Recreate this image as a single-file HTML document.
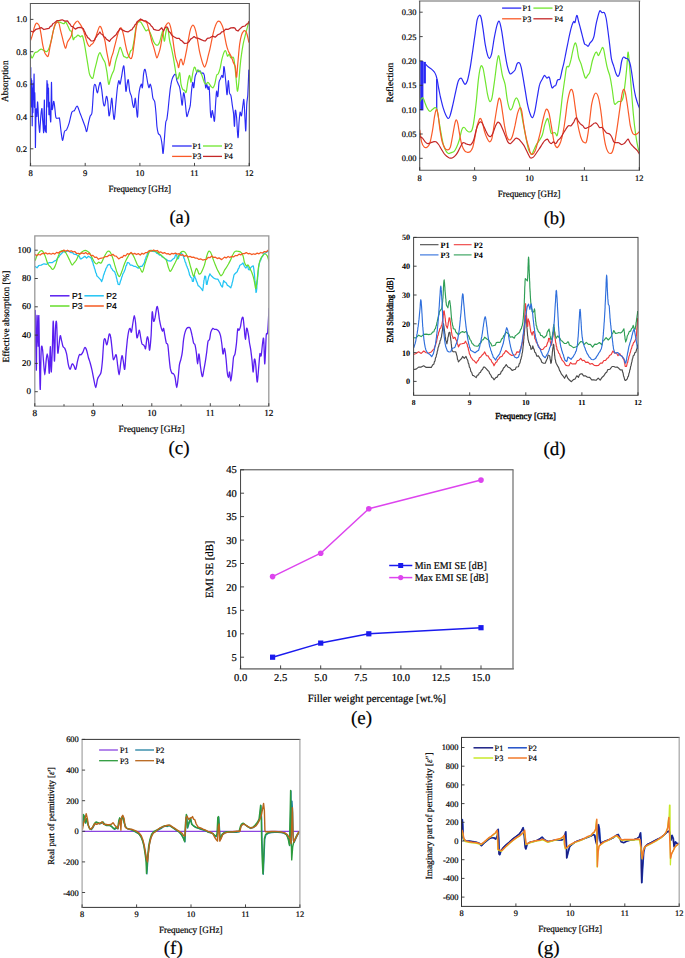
<!DOCTYPE html><html><head><meta charset="utf-8"><style>html,body{margin:0;padding:0;background:#fff;}svg{display:block;text-rendering:geometricPrecision;-webkit-font-smoothing:antialiased;}</style></head><body>
<svg width="685" height="958" viewBox="0 0 685 958">
<rect width="685" height="958" fill="#fff"/>
<clipPath id="ca"><rect x="30.4" y="3.5" width="218.9" height="162.4"/></clipPath>
<g clip-path="url(#ca)">
<path d="M30.8,67.5 C30.8,71.7 30.9,91.0 31.0,92.9 C31.1,94.8 31.2,76.4 31.3,78.8 C31.3,81.1 31.3,106.7 31.4,107.0 C31.5,107.3 31.7,77.5 31.8,80.7 C31.9,83.8 32.1,124.5 32.2,125.8 C32.3,127.0 32.4,90.4 32.6,88.2 C32.7,86.0 32.8,113.4 32.9,112.6 C33.1,111.8 33.2,85.7 33.3,83.5 C33.4,81.3 33.6,101.0 33.7,99.5 C33.8,97.9 33.9,72.8 34.1,74.1 C34.2,75.3 34.3,103.8 34.4,107.0 C34.6,110.1 34.7,91.3 34.8,92.9 C34.9,94.4 35.1,107.3 35.2,116.4 C35.3,125.4 35.3,145.8 35.4,147.4 C35.5,148.9 35.6,132.2 35.8,125.8 C35.9,119.3 36.1,110.4 36.3,108.9 C36.5,107.3 36.7,117.5 36.9,116.4 C37.1,115.3 37.3,103.8 37.5,102.3 C37.6,100.7 37.8,103.8 38.0,107.0 C38.2,110.1 38.4,117.6 38.6,121.1 C38.8,124.5 39.0,125.8 39.1,127.6 C39.3,129.5 39.5,133.0 39.7,132.3 C39.9,131.7 40.1,126.5 40.3,123.9 C40.5,121.2 40.6,118.6 40.8,116.4 C41.0,114.2 41.2,112.0 41.4,110.7 C41.6,109.5 41.8,107.6 42.0,108.9 C42.2,110.1 42.3,115.4 42.5,118.2 C42.7,121.1 42.9,123.4 43.1,125.8 C43.3,128.1 43.5,134.5 43.7,132.3 C43.8,130.1 43.9,117.9 44.0,112.6 C44.2,107.3 44.3,98.2 44.4,100.4 C44.5,102.6 44.7,120.6 44.8,125.8 C44.9,130.9 45.0,131.4 45.2,131.4 C45.3,131.4 45.5,125.8 45.7,125.8 C45.9,125.8 46.1,136.1 46.3,131.4 C46.4,126.7 46.5,106.0 46.7,97.6 C46.8,89.1 46.9,81.5 47.0,80.7 C47.2,79.9 47.3,92.3 47.4,92.9 C47.5,93.5 47.7,82.1 47.8,84.4 C47.9,86.8 48.0,106.3 48.2,107.0 C48.3,107.6 48.4,86.9 48.5,88.2 C48.7,89.4 48.8,112.1 48.9,114.5 C49.0,116.8 49.2,103.2 49.3,102.3 C49.4,101.3 49.5,106.5 49.7,108.9 C49.8,111.2 50.0,114.3 50.2,116.4 C50.4,118.4 50.6,124.2 50.8,121.1 C51.0,117.9 51.0,104.0 51.2,97.6 C51.3,91.2 51.4,81.0 51.5,82.5 C51.7,84.1 51.8,102.6 51.9,107.0 C52.1,111.4 52.3,109.2 52.5,108.9 C52.7,108.5 52.9,106.3 53.1,105.1 C53.2,103.8 53.4,101.6 53.6,101.3 C53.8,101.0 54.0,102.0 54.2,103.2 C54.4,104.5 54.7,106.7 54.9,108.9 C55.2,111.0 55.4,114.8 55.7,116.4 C55.9,117.9 56.1,117.9 56.4,118.2 C56.8,118.6 57.2,118.2 57.7,118.2 C58.1,118.2 58.6,118.1 58.9,118.2 C59.2,118.4 59.2,116.7 59.6,119.2 C60.0,121.8 60.8,129.8 61.3,133.3 C61.8,136.8 62.2,140.6 62.7,140.3 C63.2,140.0 63.8,133.3 64.5,131.5 C65.1,129.8 65.8,131.2 66.6,129.8 C67.4,128.3 68.3,125.7 69.2,122.8 C70.1,119.8 71.0,114.3 71.8,112.2 C72.7,110.2 73.6,111.5 74.5,110.5 C75.3,109.5 76.2,105.8 77.1,106.1 C78.0,106.4 78.9,110.0 79.7,112.2 C80.6,114.4 81.5,116.9 82.4,119.2 C83.2,121.6 84.3,124.2 85.0,126.3 C85.7,128.3 86.2,132.1 86.7,131.5 C87.3,130.9 87.9,125.4 88.5,122.8 C89.1,120.1 89.7,117.5 90.3,115.7 C90.8,114.0 91.4,116.9 92.0,112.2 C92.6,107.6 93.2,92.2 93.8,87.7 C94.3,83.2 94.9,84.2 95.5,85.1 C96.1,85.9 96.7,92.8 97.3,92.9 C97.9,93.1 98.5,87.7 99.0,85.9 C99.5,84.2 99.8,81.8 100.3,82.4 C100.7,83.0 101.1,85.9 101.7,89.4 C102.2,92.9 102.9,100.8 103.4,103.5 C103.9,106.1 104.3,106.4 104.8,105.2 C105.3,104.1 105.9,97.0 106.4,96.5 C106.9,95.9 107.4,98.5 107.8,101.7 C108.2,104.9 108.6,114.6 109.0,115.7 C109.5,116.9 110.0,111.6 110.4,108.7 C110.9,105.8 111.4,97.6 111.8,98.2 C112.3,98.8 112.6,108.7 113.1,112.2 C113.5,115.7 113.8,120.4 114.3,119.2 C114.7,118.1 115.2,110.5 115.7,105.2 C116.2,100.0 116.9,91.8 117.4,87.7 C118.0,83.6 118.4,81.3 118.8,80.7 C119.3,80.1 119.6,84.8 120.1,84.2 C120.5,83.6 120.9,80.2 121.5,77.2 C122.1,74.1 123.0,66.1 123.6,65.8 C124.1,65.5 124.4,71.2 124.8,75.4 C125.2,79.6 125.5,89.7 125.9,91.2 C126.2,92.7 126.7,86.1 127.1,84.2 C127.5,82.3 127.9,78.6 128.3,79.8 C128.7,81.0 129.2,88.4 129.7,91.2 C130.2,94.0 130.9,94.1 131.5,96.5 C132.0,98.8 132.4,103.5 132.9,105.2 C133.3,107.0 133.7,108.1 134.1,107.0 C134.5,105.8 134.9,97.9 135.3,98.2 C135.7,98.5 136.0,105.7 136.4,108.7 C136.8,111.8 137.2,119.0 137.6,116.6 C138.0,114.3 138.2,100.1 138.8,94.7 C139.4,89.3 140.6,85.3 141.2,84.2 C141.7,83.0 142.0,89.4 142.4,87.7 C142.8,85.9 143.2,76.7 143.6,73.7 C144.1,70.6 144.5,69.0 145.0,69.3 C145.5,69.6 146.0,73.2 146.4,75.4 C146.9,77.6 147.2,80.4 147.6,82.4 C148.1,84.5 148.4,87.4 148.9,87.7 C149.3,88.0 149.8,83.9 150.3,84.2 C150.7,84.5 151.2,87.1 151.7,89.4 C152.1,91.8 152.4,96.2 152.9,98.2 C153.4,100.3 154.2,99.4 154.7,101.7 C155.2,104.1 155.5,108.1 155.9,112.2 C156.3,116.3 156.6,122.8 156.9,126.3 C157.3,129.8 157.7,131.8 158.2,133.3 C158.7,134.7 159.4,134.2 159.9,135.0 C160.4,135.9 160.8,136.8 161.1,138.5 C161.5,140.3 161.9,143.1 162.2,145.6 C162.5,148.0 162.7,154.3 163.1,153.4 C163.4,152.6 163.9,145.4 164.3,140.3 C164.7,135.2 165.3,126.3 165.7,122.8 C166.1,119.2 166.5,121.6 166.9,119.2 C167.3,116.9 167.7,112.8 168.2,108.7 C168.6,104.6 169.1,98.8 169.6,94.7 C170.0,90.6 170.5,86.8 171.0,84.2 C171.4,81.5 171.7,80.4 172.2,78.9 C172.7,77.5 173.4,76.1 173.9,75.4 C174.5,74.7 175.2,73.7 175.7,74.5 C176.2,75.4 176.5,79.1 176.9,80.7 C177.4,82.3 177.9,83.0 178.3,84.2 C178.8,85.3 179.3,85.6 179.7,87.7 C180.2,89.7 180.6,93.5 181.0,96.5 C181.4,99.4 181.8,105.8 182.2,105.2 C182.6,104.6 183.1,93.8 183.6,92.9 C184.1,92.1 184.6,96.7 185.0,100.0 C185.4,103.2 185.9,109.5 186.2,112.2 C186.6,115.0 186.7,116.9 187.1,116.6 C187.5,116.3 188.3,112.4 188.9,110.5 C189.4,108.6 189.8,108.4 190.3,105.2 C190.7,102.0 191.1,95.0 191.5,91.2 C191.9,87.4 192.3,83.0 192.7,82.4 C193.1,81.8 193.4,88.6 193.8,87.7 C194.1,86.8 194.6,79.5 195.0,77.2 C195.4,74.8 195.8,74.8 196.2,73.7 C196.7,72.5 197.2,70.4 197.6,70.1 C198.1,69.9 198.6,71.8 199.0,71.9 C199.5,72.0 199.8,70.7 200.3,71.0 C200.7,71.3 201.0,73.4 201.5,73.7 C201.9,73.9 202.4,72.5 202.9,72.8 C203.4,73.1 203.8,72.9 204.3,75.4 C204.8,77.9 205.3,86.2 205.7,87.7 C206.1,89.1 206.3,83.9 206.7,84.2 C207.2,84.5 207.7,88.9 208.1,89.4 C208.6,90.0 208.8,83.9 209.2,87.7 C209.6,91.5 210.1,107.3 210.4,112.2 C210.8,117.2 211.0,117.8 211.3,117.5 C211.6,117.2 211.8,110.8 212.2,110.5 C212.5,110.2 213.0,114.0 213.4,115.7 C213.8,117.5 214.1,122.8 214.5,121.0 C214.8,119.2 215.2,110.2 215.5,105.2 C215.9,100.3 216.2,92.7 216.6,91.2 C216.9,89.7 217.4,97.9 217.8,96.5 C218.2,95.0 218.6,85.3 219.0,82.4 C219.5,79.5 220.0,80.1 220.4,78.9 C220.9,77.7 221.4,75.7 221.8,75.4 C222.3,75.1 222.7,78.6 223.1,77.2 C223.4,75.7 223.6,67.2 223.9,66.6 C224.3,66.1 224.6,70.7 225.0,73.7 C225.3,76.6 225.7,80.7 226.0,84.2 C226.4,87.7 226.7,95.3 227.1,94.7 C227.5,94.1 227.9,81.0 228.3,80.7 C228.7,80.4 229.1,90.5 229.5,92.9 C230.0,95.4 230.5,93.5 230.9,95.6 C231.4,97.6 231.9,102.2 232.3,105.2 C232.8,108.3 233.2,110.5 233.6,114.0 C233.9,117.5 234.2,126.8 234.5,126.3 C234.7,125.7 235.0,111.9 235.3,110.5 C235.7,109.0 236.1,113.0 236.6,117.5 C237.0,122.0 237.5,136.8 238.0,137.7 C238.4,138.5 238.7,127.0 239.0,122.8 C239.4,118.5 239.7,113.4 240.1,112.2 C240.5,111.1 241.0,116.9 241.5,115.7 C241.9,114.6 242.5,107.8 242.9,105.2 C243.3,102.6 243.6,97.6 243.9,100.0 C244.3,102.3 244.7,114.1 245.0,119.2 C245.3,124.4 245.6,133.0 245.8,130.6 C246.1,128.3 246.4,111.2 246.7,105.2 C247.0,99.2 247.4,100.5 247.8,94.7 C248.1,88.9 248.7,74.2 248.8,70.1" fill="none" stroke="#2a2af5" stroke-width="1.15" stroke-linejoin="round" stroke-linecap="round" />
<path d="M30.6,54.4 C30.8,54.9 31.4,57.6 31.9,57.9 C32.3,58.2 32.7,57.0 33.3,56.1 C33.8,55.2 34.3,53.3 35.0,52.6 C35.7,51.9 36.9,52.2 37.6,51.7 C38.4,51.3 38.8,50.4 39.4,50.0 C40.0,49.5 40.6,49.1 41.2,49.1 C41.7,49.1 42.3,49.7 42.9,50.0 C43.5,50.3 44.1,50.6 44.7,50.9 C45.2,51.1 45.8,51.9 46.4,51.7 C47.0,51.6 47.6,51.0 48.2,50.0 C48.8,49.0 49.3,47.5 49.9,45.6 C50.5,43.7 51.0,41.5 51.7,38.6 C52.3,35.7 53.2,30.7 54.0,28.1 C54.7,25.4 55.3,23.8 56.1,22.8 C56.8,21.8 57.8,21.9 58.7,21.9 C59.6,21.9 60.4,22.5 61.3,22.8 C62.2,23.1 63.2,23.8 63.9,23.7 C64.7,23.5 65.0,21.5 65.7,21.9 C66.4,22.4 67.3,24.8 68.0,26.3 C68.7,27.8 69.5,29.8 70.1,30.7 C70.7,31.6 71.0,30.1 71.5,31.6 C72.0,33.0 72.7,38.4 73.2,39.5 C73.7,40.5 74.0,38.1 74.5,37.7 C75.0,37.3 75.6,37.3 76.2,36.8 C76.8,36.4 77.2,35.1 78.0,35.1 C78.7,35.1 79.9,36.7 80.6,36.8 C81.3,37.0 81.8,35.1 82.4,35.9 C82.9,36.8 83.5,39.3 84.1,42.1 C84.7,44.9 85.3,49.1 85.9,52.6 C86.5,56.1 87.0,59.6 87.6,63.1 C88.2,66.6 88.8,71.3 89.4,73.7 C90.0,76.0 90.5,76.4 91.1,77.2 C91.7,77.9 92.3,79.2 92.9,78.0 C93.5,76.9 94.1,72.6 94.6,70.1 C95.2,67.7 95.8,65.5 96.4,63.1 C97.0,60.8 97.6,57.9 98.1,56.1 C98.7,54.4 99.3,52.6 99.9,52.6 C100.5,52.6 101.1,54.9 101.7,56.1 C102.2,57.3 102.8,58.5 103.4,59.6 C104.0,60.8 104.6,61.1 105.2,63.1 C105.7,65.2 106.3,68.4 106.9,71.9 C107.5,75.4 108.1,83.0 108.7,84.2 C109.3,85.3 109.8,80.7 110.4,78.9 C111.0,77.2 111.6,75.1 112.2,73.7 C112.8,72.2 113.3,72.2 113.9,70.1 C114.5,68.1 115.0,64.3 115.7,61.4 C116.4,58.5 117.6,54.9 118.3,52.6 C119.0,50.3 119.5,47.6 120.1,47.3 C120.7,47.1 121.2,49.4 121.8,50.9 C122.4,52.3 123.0,55.1 123.6,56.1 C124.2,57.1 124.7,56.7 125.3,57.0 C125.9,57.3 126.5,58.0 127.1,57.9 C127.7,57.7 128.3,57.3 128.8,56.1 C129.4,54.9 130.0,52.0 130.6,50.9 C131.2,49.7 131.8,50.9 132.3,49.1 C132.9,47.3 133.5,43.8 134.1,40.3 C134.7,36.8 135.3,31.0 135.8,28.1 C136.4,25.1 136.8,23.8 137.6,22.8 C138.4,21.8 139.7,21.3 140.6,21.9 C141.6,22.5 142.4,24.8 143.3,26.3 C144.1,27.8 145.0,30.1 145.9,30.7 C146.8,31.3 147.6,29.1 148.5,29.8 C149.4,30.5 150.3,33.0 151.2,35.1 C152.0,37.1 153.0,40.5 153.8,42.1 C154.6,43.7 155.2,44.3 155.9,44.7 C156.6,45.2 157.5,45.3 158.2,44.7 C158.8,44.1 159.3,43.0 159.9,41.2 C160.5,39.5 161.2,35.8 161.7,34.2 C162.2,32.6 162.5,30.4 162.9,31.6 C163.3,32.7 163.8,40.9 164.3,41.2 C164.8,41.5 165.3,35.5 165.7,33.3 C166.1,31.1 166.5,28.6 166.9,28.1 C167.3,27.5 167.7,27.8 168.2,29.8 C168.6,31.9 169.0,37.4 169.6,40.3 C170.1,43.3 170.7,44.7 171.3,47.3 C171.9,50.0 172.5,52.9 173.1,56.1 C173.7,59.3 174.3,63.4 174.8,66.6 C175.4,69.9 175.7,73.4 176.2,75.4 C176.8,77.5 177.4,79.4 178.0,78.9 C178.6,78.5 179.2,71.9 179.7,72.8 C180.2,73.7 180.5,81.4 181.0,84.2 C181.5,87.0 182.1,88.4 182.7,89.4 C183.3,90.5 183.9,89.9 184.5,90.3 C185.1,90.8 185.6,93.7 186.2,92.1 C186.8,90.5 187.4,83.4 188.0,80.7 C188.6,77.9 189.2,75.1 189.7,75.4 C190.2,75.7 190.5,82.4 191.0,82.4 C191.4,82.4 191.9,77.7 192.4,75.4 C192.8,73.1 193.3,69.7 193.8,68.4 C194.2,67.1 194.5,66.9 195.0,67.5 C195.5,68.1 196.2,71.5 196.7,71.9 C197.3,72.3 197.9,70.1 198.5,70.1 C199.1,70.1 199.7,71.0 200.3,71.9 C200.8,72.8 201.3,73.7 202.0,75.4 C202.7,77.2 203.6,81.0 204.3,82.4 C205.0,83.9 205.5,84.2 206.0,84.2 C206.6,84.2 207.2,82.4 207.8,82.4 C208.4,82.4 209.0,83.4 209.5,84.2 C210.1,84.9 210.7,86.2 211.3,86.8 C211.9,87.4 212.5,88.1 213.1,87.7 C213.6,87.2 214.2,86.2 214.8,84.2 C215.4,82.1 216.0,77.2 216.6,75.4 C217.1,73.7 217.7,74.8 218.3,73.7 C218.9,72.5 219.5,70.7 220.1,68.4 C220.7,66.1 221.2,62.3 221.8,59.6 C222.5,57.0 223.3,54.1 223.9,52.6 C224.6,51.1 225.1,50.3 225.7,50.9 C226.3,51.4 226.9,55.5 227.4,56.1 C228.0,56.7 228.6,54.1 229.2,54.4 C229.8,54.7 230.2,57.3 230.9,57.9 C231.7,58.5 232.8,55.8 233.6,57.9 C234.3,59.9 234.8,65.8 235.3,70.1 C235.8,74.5 236.2,80.7 236.6,84.2 C236.9,87.7 237.2,91.5 237.6,91.2 C238.0,90.9 238.4,86.5 238.8,82.4 C239.2,78.3 239.6,71.3 240.1,66.6 C240.5,62.0 240.9,58.2 241.5,54.4 C242.0,50.6 242.6,47.1 243.2,43.8 C243.9,40.6 244.6,38.0 245.3,35.1 C246.1,32.2 247.0,28.5 247.6,26.3 C248.2,24.1 248.6,22.7 248.8,21.9" fill="none" stroke="#6fe62e" stroke-width="1.2" stroke-linejoin="round" stroke-linecap="round" />
<path d="M30.6,40.3 C30.9,39.5 31.8,37.1 32.4,35.1 C33.0,33.0 33.6,30.0 34.1,28.1 C34.7,26.2 35.3,24.4 35.9,23.7 C36.5,22.9 37.1,23.2 37.6,23.7 C38.2,24.1 38.8,24.4 39.4,26.3 C40.0,28.2 40.6,31.9 41.2,35.1 C41.7,38.3 42.3,42.7 42.9,45.6 C43.5,48.5 44.1,51.0 44.7,52.6 C45.2,54.2 45.8,54.7 46.4,55.2 C47.0,55.8 47.6,57.4 48.2,56.1 C48.8,54.8 49.3,50.3 49.9,47.3 C50.5,44.4 51.0,41.8 51.7,38.6 C52.3,35.4 53.2,30.7 54.0,28.1 C54.7,25.4 55.3,23.7 56.1,22.8 C56.8,21.9 58.0,21.6 58.7,22.8 C59.4,24.0 59.9,27.5 60.4,29.8 C61.0,32.2 61.6,34.5 62.2,36.8 C62.8,39.2 63.4,41.9 63.9,43.8 C64.5,45.7 65.1,48.5 65.7,48.2 C66.3,47.9 66.8,43.7 67.5,42.1 C68.1,40.5 69.1,39.7 69.7,38.6 C70.4,37.4 70.9,37.1 71.5,35.1 C72.1,33.0 72.6,28.4 73.2,26.3 C73.9,24.3 74.6,23.7 75.3,22.8 C76.1,21.9 76.8,21.0 77.5,21.0 C78.1,21.0 78.5,21.9 79.2,22.8 C79.9,23.7 80.7,24.8 81.5,26.3 C82.2,27.8 83.0,29.5 83.8,31.6 C84.5,33.6 85.2,36.5 85.9,38.6 C86.5,40.6 87.0,42.5 87.6,43.8 C88.2,45.2 88.8,46.3 89.4,46.5 C90.0,46.6 90.5,45.3 91.1,44.7 C91.8,44.1 92.5,44.1 93.2,43.0 C94.0,41.8 94.8,39.7 95.5,37.7 C96.3,35.7 97.1,32.6 97.8,30.7 C98.5,28.8 99.3,26.6 99.9,26.3 C100.5,26.0 101.1,27.5 101.7,28.9 C102.2,30.4 102.8,32.9 103.4,35.1 C104.0,37.3 104.6,39.2 105.2,42.1 C105.7,45.0 106.3,49.4 106.9,52.6 C107.5,55.8 108.2,59.2 108.7,61.4 C109.1,63.6 109.1,66.3 109.5,65.8 C110.0,65.2 110.7,60.1 111.3,57.9 C111.9,55.7 112.5,54.7 113.1,52.6 C113.6,50.6 114.2,47.9 114.8,45.6 C115.4,43.3 116.0,40.8 116.6,38.6 C117.1,36.4 117.7,34.2 118.3,32.4 C118.9,30.7 119.5,28.6 120.1,28.1 C120.7,27.5 121.2,27.8 121.8,28.9 C122.4,30.1 123.0,32.6 123.6,35.1 C124.2,37.6 124.7,41.1 125.3,43.8 C125.9,46.6 126.5,49.7 127.1,51.7 C127.7,53.8 128.3,54.9 128.8,56.1 C129.4,57.3 130.0,58.7 130.6,58.7 C131.2,58.7 131.8,58.6 132.3,56.1 C132.9,53.6 133.5,48.1 134.1,43.8 C134.7,39.6 135.3,34.3 135.8,30.7 C136.4,27.0 136.6,23.7 137.6,21.9 C138.6,20.2 140.8,20.3 141.9,20.2 C142.9,20.0 143.3,20.6 144.1,21.0 C145.0,21.5 146.0,21.6 146.8,22.8 C147.5,24.0 147.9,26.0 148.5,28.1 C149.1,30.1 149.7,32.7 150.3,35.1 C150.9,37.4 151.4,40.0 152.0,42.1 C152.6,44.1 153.3,45.6 153.8,47.3 C154.3,49.1 154.7,50.9 155.2,52.6 C155.7,54.4 156.4,57.7 156.9,57.9 C157.5,58.0 158.1,55.2 158.7,53.5 C159.3,51.7 159.9,50.1 160.4,47.3 C161.0,44.6 161.6,39.9 162.2,36.8 C162.8,33.8 163.6,31.0 164.3,28.9 C165.0,26.9 165.7,25.6 166.4,24.6 C167.1,23.5 168.0,22.5 168.7,22.8 C169.4,23.1 169.9,24.3 170.4,26.3 C171.0,28.4 171.6,31.6 172.2,35.1 C172.8,38.6 173.4,43.5 173.9,47.3 C174.5,51.1 175.1,55.2 175.7,57.9 C176.3,60.5 177.0,61.5 177.5,63.1 C178.0,64.7 178.2,68.0 178.7,67.5 C179.1,67.1 179.6,61.8 180.1,60.5 C180.6,59.2 181.0,58.9 181.5,59.6 C182.0,60.4 182.7,65.2 183.2,64.9 C183.8,64.6 184.4,60.8 185.0,57.9 C185.6,54.9 186.5,50.9 187.1,47.3 C187.7,43.8 188.3,39.9 188.9,36.8 C189.4,33.8 190.0,30.8 190.6,28.9 C191.2,27.0 191.8,25.9 192.4,25.4 C192.9,25.0 193.5,25.3 194.1,26.3 C194.7,27.3 195.3,29.2 195.9,31.6 C196.5,33.9 197.0,37.1 197.6,40.3 C198.2,43.5 198.8,47.9 199.4,50.9 C200.0,53.8 200.5,55.7 201.1,57.9 C201.7,60.1 202.3,62.5 202.9,64.0 C203.5,65.6 204.1,67.3 204.6,67.2 C205.2,67.0 205.8,65.0 206.4,63.1 C207.0,61.3 207.6,58.5 208.1,56.1 C208.7,53.8 209.3,51.7 209.9,49.1 C210.5,46.5 211.1,43.1 211.7,40.3 C212.2,37.6 212.8,34.8 213.4,32.4 C214.0,30.1 214.5,28.1 215.2,26.3 C215.8,24.6 216.5,22.7 217.3,21.9 C218.0,21.1 218.9,21.1 219.5,21.4 C220.2,21.7 220.7,22.6 221.3,23.7 C221.9,24.8 222.5,25.9 223.1,28.1 C223.6,30.3 224.2,33.9 224.8,36.8 C225.4,39.7 226.0,43.3 226.6,45.6 C227.1,47.9 227.7,49.4 228.3,50.9 C228.9,52.3 229.5,53.2 230.1,54.4 C230.7,55.5 231.2,56.4 231.8,57.9 C232.4,59.3 233.0,61.7 233.6,63.1 C234.2,64.6 234.8,64.3 235.3,66.6 C235.8,69.0 236.1,78.0 236.6,77.2 C237.0,76.3 237.4,66.9 238.0,61.4 C238.5,55.8 239.1,48.2 239.7,43.8 C240.3,39.5 240.9,37.1 241.5,35.1 C242.1,33.0 242.6,32.3 243.2,31.6 C243.8,30.8 244.4,30.4 245.0,30.7 C245.6,31.0 246.1,31.4 246.7,33.3 C247.4,35.2 248.5,40.6 248.8,42.1" fill="none" stroke="#fa5a28" stroke-width="1.2" stroke-linejoin="round" stroke-linecap="round" />
<path d="M30.6,31.1 L33.3,32.0 L35.9,29.3 L38.5,28.6 L41.2,27.6 L43.8,29.5 L46.4,28.8 L49.0,28.4 L50.4,26.3 L51.7,25.9 L53.0,23.5 L54.3,23.0 L56.9,20.7 L59.6,20.4 L62.2,19.8 L64.8,21.1 L67.5,20.9 L68.8,22.9 L70.1,24.3 L71.4,26.5 L72.7,26.7 L75.3,29.1 L78.0,27.6 L80.6,27.4 L83.2,28.5 L84.1,30.6 L85.0,32.3 L85.9,34.7 L86.7,35.6 L87.6,37.6 L88.5,38.0 L91.1,40.9 L92.9,41.0 L94.6,40.0 L95.5,37.7 L96.4,36.9 L97.3,34.9 L98.6,33.9 L99.9,32.0 L101.2,34.0 L102.5,34.5 L103.8,36.7 L105.2,37.4 L106.5,39.3 L107.8,40.1 L109.5,41.4 L110.8,39.4 L112.2,38.1 L114.8,35.8 L116.1,34.8 L117.4,32.2 L118.8,30.7 L120.1,28.4 L122.7,30.2 L125.3,31.3 L128.0,31.9 L130.6,30.2 L131.9,29.7 L133.2,27.5 L134.1,26.8 L135.0,24.7 L135.8,24.2 L137.2,21.6 L138.5,20.7 L140.6,19.0 L143.3,20.6 L145.9,20.9 L148.5,22.9 L149.8,23.8 L151.2,26.0 L152.5,27.0 L153.8,29.4 L156.4,30.1 L159.0,30.4 L161.7,27.8 L163.4,31.0 L165.2,27.7 L166.9,26.8 L167.8,28.1 L168.7,31.2 L170.4,32.8 L172.2,35.6 L173.9,36.7 L176.6,38.3 L179.2,38.4 L180.5,40.1 L181.8,40.8 L184.5,43.5 L187.1,43.2 L188.9,41.8 L190.6,39.1 L192.4,38.0 L194.1,36.6 L195.9,37.9 L198.5,38.4 L201.1,39.6 L203.8,40.8 L205.5,40.9 L207.3,38.4 L209.9,37.8 L212.5,36.2 L215.2,37.2 L217.8,34.8 L220.4,33.6 L221.7,31.9 L223.1,31.7 L225.7,29.1 L228.3,29.3 L230.9,27.9 L233.6,27.7 L234.9,28.2 L236.2,30.2 L238.0,31.0 L239.7,29.1 L242.3,26.7 L245.0,26.0 L246.7,24.1 L247.9,23.7 L248.8,21.7" fill="none" stroke="#c42828" stroke-width="1.25" stroke-linejoin="round" stroke-linecap="round" />
</g>
<line x1="29.849999999999998" y1="3.5" x2="249.85000000000002" y2="3.5" stroke="#555" stroke-width="1.1"/>
<line x1="29.7" y1="165.9" x2="250.0" y2="165.9" stroke="#999" stroke-width="1.4"/>
<line x1="30.4" y1="3.5" x2="30.4" y2="165.9" stroke="#666" stroke-width="1.1"/>
<line x1="249.3" y1="3.5" x2="249.3" y2="165.9" stroke="#555" stroke-width="1.1"/>
<line x1="30.4" y1="148.8" x2="33.4" y2="148.8" stroke="#333" stroke-width="0.9"/>
<text x="27.0" y="151.8" font-size="8.6" text-anchor="end" font-family="Liberation Serif, serif" fill="#000" stroke="#000" stroke-width="0.2" >0.2</text>
<line x1="30.4" y1="116.4" x2="33.4" y2="116.4" stroke="#333" stroke-width="0.9"/>
<text x="27.0" y="119.5" font-size="8.6" text-anchor="end" font-family="Liberation Serif, serif" fill="#000" stroke="#000" stroke-width="0.2" >0.4</text>
<line x1="30.4" y1="84.1" x2="33.4" y2="84.1" stroke="#333" stroke-width="0.9"/>
<text x="27.0" y="87.1" font-size="8.6" text-anchor="end" font-family="Liberation Serif, serif" fill="#000" stroke="#000" stroke-width="0.2" >0.6</text>
<line x1="30.4" y1="51.7" x2="33.4" y2="51.7" stroke="#333" stroke-width="0.9"/>
<text x="27.0" y="54.8" font-size="8.6" text-anchor="end" font-family="Liberation Serif, serif" fill="#000" stroke="#000" stroke-width="0.2" >0.8</text>
<line x1="30.4" y1="19.4" x2="33.4" y2="19.4" stroke="#333" stroke-width="0.9"/>
<text x="27.0" y="22.4" font-size="8.6" text-anchor="end" font-family="Liberation Serif, serif" fill="#000" stroke="#000" stroke-width="0.2" >1.0</text>
<line x1="30.6" y1="165.9" x2="30.6" y2="162.9" stroke="#333" stroke-width="0.9"/>
<text x="30.6" y="176.0" font-size="8.6" text-anchor="middle" font-family="Liberation Serif, serif" fill="#000" stroke="#000" stroke-width="0.2" >8</text>
<line x1="85.2" y1="165.9" x2="85.2" y2="162.9" stroke="#333" stroke-width="0.9"/>
<text x="85.2" y="176.0" font-size="8.6" text-anchor="middle" font-family="Liberation Serif, serif" fill="#000" stroke="#000" stroke-width="0.2" >9</text>
<line x1="139.9" y1="165.9" x2="139.9" y2="162.9" stroke="#333" stroke-width="0.9"/>
<text x="139.9" y="176.0" font-size="8.6" text-anchor="middle" font-family="Liberation Serif, serif" fill="#000" stroke="#000" stroke-width="0.2" >10</text>
<line x1="194.5" y1="165.9" x2="194.5" y2="162.9" stroke="#333" stroke-width="0.9"/>
<text x="194.5" y="176.0" font-size="8.6" text-anchor="middle" font-family="Liberation Serif, serif" fill="#000" stroke="#000" stroke-width="0.2" >11</text>
<line x1="249.2" y1="165.9" x2="249.2" y2="162.9" stroke="#333" stroke-width="0.9"/>
<text x="249.2" y="176.0" font-size="8.6" text-anchor="middle" font-family="Liberation Serif, serif" fill="#000" stroke="#000" stroke-width="0.2" >12</text>
<text x="139.8" y="191.7" font-size="9.6" text-anchor="middle" font-family="Liberation Serif, serif" fill="#000" stroke="#000" stroke-width="0.2" textLength="62.6" lengthAdjust="spacingAndGlyphs" >Frequency [GHz]</text>
<text transform="translate(4.4,81.2) rotate(-90)" x="0" y="3.4" font-size="9.6" text-anchor="middle" font-family="Liberation Serif, serif" fill="#000" stroke="#000" stroke-width="0.2" textLength="41.6" lengthAdjust="spacingAndGlyphs">Absorption</text>
<line x1="172.1" y1="146.0" x2="191.7" y2="146.0" stroke="#2a2af5" stroke-width="1.3"/>
<text x="192.6" y="148.9" font-size="8.2" text-anchor="start" font-family="Liberation Serif, serif" fill="#000" stroke="#000" stroke-width="0.2" >P1</text>
<line x1="203" y1="146.0" x2="222" y2="146.0" stroke="#6fe62e" stroke-width="1.3"/>
<text x="224.3" y="148.9" font-size="8.2" text-anchor="start" font-family="Liberation Serif, serif" fill="#000" stroke="#000" stroke-width="0.2" >P2</text>
<line x1="172.1" y1="156.4" x2="191.7" y2="156.4" stroke="#fa5a28" stroke-width="1.3"/>
<text x="192.6" y="159.3" font-size="8.2" text-anchor="start" font-family="Liberation Serif, serif" fill="#000" stroke="#000" stroke-width="0.2" >P3</text>
<line x1="203" y1="156.4" x2="222" y2="156.4" stroke="#c42828" stroke-width="1.3"/>
<text x="224.3" y="159.3" font-size="8.2" text-anchor="start" font-family="Liberation Serif, serif" fill="#000" stroke="#000" stroke-width="0.2" >P4</text>
<text x="179.7" y="223.3" font-size="18.5" text-anchor="middle" font-family="Liberation Serif, serif" fill="#000" stroke="#000" stroke-width="0.2" >(a)</text>
<clipPath id="cb"><rect x="419.7" y="1.0" width="219.7" height="169.2"/></clipPath>
<g clip-path="url(#cb)">
<rect x="420.2" y="61.0" width="3.2" height="49.4" fill="#2a2af5"/>
<rect x="423.4" y="61.9" width="2.5" height="21.5" fill="#2a2af5"/>
<line x1="436.7" y1="79.0" x2="436.7" y2="110.4" stroke="#2a2af5" stroke-width="1.3"/>
<path d="M419.8,101.4 C420.1,101.0 421.1,99.3 421.6,98.7 C422.1,98.1 422.5,97.3 423.0,97.8 C423.6,98.4 424.2,100.7 424.8,102.3 C425.5,104.0 426.2,106.2 427.0,107.7 C427.8,109.2 428.8,111.0 429.7,111.3 C430.6,111.6 431.5,110.1 432.4,109.5 C433.3,108.9 434.3,107.7 435.1,107.7 C435.8,107.7 436.3,107.7 436.9,109.5 C437.5,111.3 438.0,114.6 438.6,118.5 C439.3,122.4 440.2,128.7 441.0,132.9 C441.7,137.0 442.3,140.6 443.1,143.6 C443.9,146.6 444.9,149.2 445.8,150.8 C446.7,152.5 447.6,153.2 448.5,153.5 C449.4,153.8 450.3,152.9 451.2,152.6 C452.1,152.3 453.0,152.6 453.9,151.7 C454.8,150.8 455.7,149.2 456.6,147.2 C457.5,145.3 458.4,143.0 459.3,140.0 C460.2,137.0 461.1,131.4 462.0,129.3 C462.8,127.2 463.6,127.3 464.3,127.5 C465.1,127.6 465.7,129.4 466.5,130.2 C467.3,130.9 468.3,132.0 469.2,132.0 C470.1,132.0 471.1,132.1 471.9,130.2 C472.7,128.2 473.3,125.2 474.0,120.3 C474.8,115.4 475.6,107.7 476.4,100.5 C477.1,93.4 477.9,82.9 478.7,77.2 C479.4,71.5 480.1,67.9 480.8,66.4 C481.6,64.9 482.2,65.8 483.0,68.2 C483.7,70.6 484.5,76.3 485.3,80.8 C486.1,85.3 486.9,91.7 487.7,95.2 C488.4,98.6 489.1,101.0 489.8,101.4 C490.5,101.9 491.2,101.0 492.0,97.8 C492.7,94.7 493.5,88.1 494.3,82.6 C495.1,77.1 496.0,69.1 496.6,64.6 C497.3,60.1 497.8,56.0 498.4,55.7 C499.0,55.4 499.6,59.5 500.2,62.8 C500.9,66.1 501.6,71.8 502.4,75.4 C503.2,79.0 504.2,80.2 505.1,84.4 C505.9,88.6 506.6,96.4 507.4,100.5 C508.2,104.7 509.1,108.3 509.9,109.5 C510.7,110.7 511.5,109.2 512.3,107.7 C513.0,106.2 513.9,102.2 514.6,100.5 C515.3,98.9 515.8,97.8 516.4,97.8 C517.0,97.8 517.5,98.9 518.2,100.5 C518.8,102.2 519.5,104.1 520.3,107.7 C521.1,111.3 522.1,117.3 523.0,122.1 C523.9,126.9 524.8,132.0 525.7,136.5 C526.6,140.9 527.7,146.3 528.4,149.0 C529.2,151.7 529.6,151.7 530.2,152.6 C530.7,153.5 531.3,155.0 531.9,154.4 C532.6,153.8 533.4,150.8 534.3,149.0 C535.1,147.2 536.1,145.1 537.0,143.6 C537.9,142.1 538.8,141.5 539.7,140.0 C540.6,138.5 541.6,137.0 542.4,134.7 C543.2,132.3 543.9,128.1 544.5,125.7 C545.2,123.3 545.8,121.5 546.3,120.3 C546.9,119.1 547.3,117.9 547.7,118.5 C548.2,119.1 548.6,121.5 549.2,123.9 C549.7,126.3 550.3,131.4 551.0,132.9 C551.6,134.4 552.4,132.9 553.1,132.9 C553.9,132.9 554.6,132.4 555.3,132.9 C555.9,133.3 556.5,136.8 557.1,135.6 C557.7,134.4 558.3,129.7 558.9,125.7 C559.5,121.6 560.1,116.4 560.7,111.3 C561.3,106.2 561.8,100.5 562.5,95.2 C563.2,89.8 564.1,83.6 564.8,79.0 C565.5,74.4 565.9,69.4 566.6,67.3 C567.3,65.2 568.2,67.8 568.9,66.4 C569.7,65.1 570.4,61.9 571.1,59.2 C571.7,56.6 572.2,53.0 572.9,50.3 C573.5,47.6 574.4,43.7 575.0,43.1 C575.7,42.5 576.2,44.3 576.8,46.7 C577.4,49.1 577.9,54.6 578.6,57.5 C579.3,60.3 580.2,61.3 581.0,63.7 C581.7,66.1 582.6,69.4 583.3,71.8 C584.0,74.2 584.7,77.5 585.5,78.1 C586.2,78.7 586.9,76.5 587.6,75.4 C588.4,74.4 589.2,74.2 589.9,71.8 C590.7,69.4 591.5,64.0 592.3,61.0 C593.1,58.1 594.1,55.4 594.8,53.9 C595.5,52.4 596.0,51.8 596.6,52.1 C597.2,52.4 597.8,55.7 598.4,55.7 C599.0,55.7 599.4,53.4 600.2,52.1 C601.0,50.7 602.2,46.7 603.0,47.6 C603.9,48.5 604.5,54.0 605.2,57.5 C605.9,60.9 606.6,65.2 607.4,68.2 C608.1,71.2 608.9,72.1 609.7,75.4 C610.5,78.7 611.3,83.3 612.0,88.0 C612.8,92.6 613.5,100.7 614.2,103.2 C614.9,105.8 615.6,103.5 616.3,103.2 C617.1,102.9 617.8,101.7 618.7,101.4 C619.5,101.1 620.6,102.2 621.4,101.4 C622.1,100.7 622.6,99.8 623.2,97.0 C623.8,94.1 624.4,89.2 625.0,84.4 C625.6,79.6 626.2,73.6 626.7,68.2 C627.3,62.8 627.6,51.5 628.2,52.1 C628.7,52.7 629.4,64.6 630.0,71.8 C630.6,79.0 631.2,87.7 631.8,95.2 C632.4,102.6 632.9,110.1 633.6,116.7 C634.2,123.3 635.0,129.6 635.7,134.7 C636.4,139.7 637.2,144.2 637.9,147.2 C638.5,150.2 639.4,151.7 639.7,152.6" fill="none" stroke="#6fe62e" stroke-width="1.2" stroke-linejoin="round" stroke-linecap="round" />
<path d="M419.8,130.2 C420.1,132.1 420.8,139.0 421.6,141.8 C422.3,144.7 423.4,146.3 424.3,147.2 C425.2,148.1 426.1,147.8 427.0,147.2 C427.9,146.6 428.8,146.3 429.7,143.6 C430.6,140.9 431.6,135.6 432.4,131.1 C433.2,126.6 433.9,120.3 434.5,116.7 C435.2,113.1 435.7,109.8 436.3,109.5 C436.9,109.2 437.5,111.6 438.1,114.9 C438.7,118.2 439.2,124.8 439.9,129.3 C440.6,133.8 441.4,138.7 442.2,141.8 C443.1,145.0 444.0,146.8 444.9,148.1 C445.8,149.5 446.7,150.1 447.6,149.9 C448.5,149.8 449.5,149.5 450.3,147.2 C451.1,145.0 451.7,140.3 452.5,136.5 C453.2,132.6 454.2,126.6 454.8,123.9 C455.4,121.1 455.7,119.9 456.2,119.9 C456.8,119.9 457.3,121.4 457.9,123.9 C458.4,126.3 459.0,131.1 459.7,134.7 C460.3,138.2 461.1,142.7 462.0,145.4 C462.8,148.1 463.8,149.7 464.7,150.8 C465.6,152.0 466.5,152.1 467.4,152.3 C468.3,152.4 469.2,152.5 470.1,151.7 C471.0,150.9 471.9,149.8 472.8,147.2 C473.6,144.7 474.3,140.0 475.1,136.5 C475.8,132.9 476.4,128.7 477.2,125.7 C478.1,122.7 479.1,119.1 479.9,118.5 C480.8,117.9 481.5,120.0 482.3,122.1 C483.0,124.2 483.6,128.4 484.4,131.1 C485.2,133.8 486.2,136.5 487.1,138.2 C488.0,140.0 489.0,141.8 489.8,141.8 C490.6,141.8 491.2,141.2 492.0,138.2 C492.7,135.3 493.5,128.7 494.3,123.9 C495.1,119.1 495.9,113.7 496.6,109.5 C497.4,105.3 498.1,100.2 498.8,98.7 C499.5,97.3 500.0,98.4 500.6,100.5 C501.2,102.6 501.7,107.1 502.4,111.3 C503.0,115.5 503.8,121.5 504.5,125.7 C505.3,129.9 506.0,134.1 506.9,136.5 C507.7,138.8 508.7,140.0 509.6,140.0 C510.5,140.0 511.4,138.8 512.3,136.5 C513.2,134.1 514.1,129.6 515.0,125.7 C515.8,121.8 516.8,116.1 517.6,113.1 C518.5,110.1 519.3,108.0 520.0,107.7 C520.7,107.4 521.1,108.3 521.8,111.3 C522.4,114.3 523.1,120.9 523.9,125.7 C524.7,130.5 525.7,136.2 526.6,140.0 C527.5,143.9 528.7,146.9 529.3,149.0 C529.9,151.1 529.6,151.7 530.2,152.6 C530.7,153.5 531.7,154.7 532.5,154.4 C533.3,154.1 534.3,152.9 535.2,150.8 C536.1,148.7 537.0,145.1 537.9,141.8 C538.8,138.5 539.7,135.0 540.6,131.1 C541.5,127.2 542.4,121.9 543.3,118.5 C544.1,115.1 544.9,111.9 545.6,110.4 C546.3,108.9 546.8,108.9 547.4,109.5 C548.0,110.1 548.5,111.3 549.2,114.0 C549.8,116.7 550.5,121.0 551.3,125.7 C552.1,130.3 553.2,138.2 554.0,141.8 C554.9,145.4 555.6,146.5 556.4,147.2 C557.1,148.0 557.8,147.2 558.5,146.3 C559.2,145.4 559.9,144.1 560.7,141.8 C561.4,139.6 562.2,136.8 563.0,132.9 C563.8,129.0 564.7,123.3 565.3,118.5 C566.0,113.7 566.5,108.3 567.1,104.1 C567.8,99.9 568.6,95.8 569.3,93.4 C570.0,90.9 570.8,89.4 571.4,89.4 C572.1,89.4 572.6,90.6 573.2,93.4 C573.8,96.1 574.4,101.7 575.0,105.9 C575.6,110.1 576.1,114.3 576.8,118.5 C577.5,122.7 578.3,127.5 579.2,131.1 C580.0,134.7 581.0,138.1 581.9,140.0 C582.8,142.0 583.8,142.4 584.6,142.7 C585.3,143.0 585.8,143.5 586.4,141.8 C586.9,140.2 587.5,136.8 588.1,132.9 C588.7,129.0 589.3,123.3 589.9,118.5 C590.5,113.7 591.0,108.0 591.7,104.1 C592.4,100.2 593.4,97.0 594.1,95.2 C594.8,93.3 595.2,92.9 595.9,93.0 C596.5,93.2 597.4,94.2 598.0,96.1 C598.7,97.9 599.2,100.7 599.8,104.1 C600.4,107.6 601.0,111.9 601.6,116.7 C602.2,121.5 602.7,128.1 603.4,132.9 C604.1,137.6 604.8,142.3 605.6,145.4 C606.3,148.6 607.1,150.4 607.9,151.7 C608.7,153.1 609.5,153.5 610.2,153.5 C611.0,153.5 611.7,153.4 612.4,151.7 C613.1,150.1 613.8,147.4 614.5,143.6 C615.3,139.9 616.1,134.4 616.9,129.3 C617.7,124.2 618.5,118.3 619.2,113.1 C620.0,107.9 620.7,101.7 621.4,97.8 C622.0,94.0 622.6,90.8 623.2,89.8 C623.8,88.7 624.4,89.8 625.0,91.6 C625.6,93.4 626.1,97.0 626.7,100.5 C627.3,104.1 627.9,108.9 628.5,113.1 C629.1,117.3 629.7,122.4 630.3,125.7 C631.0,129.0 631.7,131.4 632.5,132.9 C633.2,134.4 634.0,134.5 634.8,134.7 C635.6,134.8 636.4,134.4 637.2,133.8 C638.0,133.2 639.3,131.5 639.7,131.1" fill="none" stroke="#fa5a28" stroke-width="1.2" stroke-linejoin="round" stroke-linecap="round" />
<path d="M419.8,136.5 C420.2,136.8 421.6,137.3 422.5,138.2 C423.4,139.1 424.3,140.9 425.2,141.8 C426.1,142.7 427.0,143.5 427.9,143.6 C428.8,143.8 429.7,143.0 430.6,142.7 C431.5,142.4 432.4,142.0 433.3,141.8 C434.2,141.7 435.1,141.4 436.0,141.8 C436.9,142.3 437.7,143.3 438.6,144.5 C439.5,145.7 440.4,147.5 441.3,149.0 C442.2,150.5 443.1,152.3 444.0,153.5 C444.9,154.7 445.8,155.5 446.7,156.2 C447.6,156.9 448.5,157.7 449.4,158.0 C450.3,158.3 451.2,158.3 452.1,158.0 C453.0,157.7 453.9,157.1 454.8,156.2 C455.7,155.3 456.6,154.1 457.5,152.6 C458.4,151.1 459.3,148.9 460.2,147.2 C461.1,145.6 462.0,143.3 462.9,142.7 C463.8,142.1 464.7,143.3 465.6,143.6 C466.5,143.9 467.4,144.4 468.3,144.5 C469.2,144.7 470.1,145.3 471.0,144.5 C471.9,143.8 472.8,142.6 473.7,140.0 C474.6,137.5 475.5,132.1 476.4,129.3 C477.2,126.4 478.2,124.2 479.0,123.0 C479.9,121.8 480.5,121.6 481.2,122.1 C481.9,122.5 482.8,124.2 483.5,125.7 C484.3,127.2 485.1,129.4 485.9,131.1 C486.7,132.7 487.6,134.7 488.4,135.6 C489.2,136.5 489.9,136.9 490.7,136.5 C491.5,136.0 492.2,134.7 493.0,132.9 C493.9,131.1 494.8,127.5 495.6,125.7 C496.4,123.9 497.1,122.4 497.9,122.1 C498.7,121.8 499.4,122.7 500.2,123.9 C501.0,125.1 501.8,127.2 502.7,129.3 C503.6,131.4 504.8,134.4 505.6,136.5 C506.5,138.5 507.0,140.6 507.8,141.8 C508.6,143.0 509.6,143.8 510.5,143.6 C511.4,143.5 512.3,141.8 513.2,140.9 C514.1,140.0 515.0,138.5 515.8,138.2 C516.7,137.9 517.6,138.5 518.5,139.1 C519.4,139.7 520.3,140.8 521.2,141.8 C522.1,142.9 523.0,143.9 523.9,145.4 C524.8,146.9 525.7,149.0 526.6,150.8 C527.5,152.6 528.6,155.0 529.3,156.2 C530.0,157.4 530.0,157.8 530.7,158.0 C531.4,158.1 532.5,157.8 533.4,157.1 C534.3,156.4 535.1,154.9 536.1,153.5 C537.0,152.2 538.1,150.5 539.1,149.0 C540.1,147.5 541.1,145.9 542.0,144.5 C542.9,143.2 543.6,141.8 544.5,140.9 C545.4,140.0 546.6,139.0 547.4,139.1 C548.2,139.3 548.5,141.1 549.2,141.8 C549.8,142.6 550.6,143.6 551.3,143.6 C552.1,143.6 552.7,141.8 553.5,141.8 C554.2,141.8 555.1,143.9 555.8,143.6 C556.6,143.3 557.4,140.9 558.2,140.0 C558.9,139.1 559.5,139.3 560.3,138.2 C561.1,137.2 562.1,135.3 563.0,133.8 C563.9,132.3 564.8,130.6 565.7,129.3 C566.6,127.9 567.5,126.3 568.4,125.7 C569.3,125.1 570.2,126.3 571.1,125.7 C572.0,125.1 572.9,123.4 573.8,122.1 C574.6,120.7 575.4,117.7 576.1,117.6 C576.9,117.4 577.6,120.1 578.3,121.2 C579.0,122.2 579.7,123.1 580.4,123.9 C581.2,124.6 582.0,124.9 582.8,125.7 C583.5,126.4 584.3,128.1 585.1,128.4 C585.9,128.7 586.8,127.8 587.6,127.5 C588.4,127.2 589.2,127.0 589.9,126.6 C590.7,126.1 591.5,125.4 592.3,124.8 C593.1,124.2 594.0,123.1 594.8,123.0 C595.6,122.8 596.3,123.1 597.1,123.9 C597.9,124.6 598.6,126.9 599.5,127.5 C600.3,128.1 601.2,127.0 602.0,127.5 C602.8,127.9 603.5,129.3 604.3,130.2 C605.1,131.1 605.8,132.3 606.6,132.9 C607.4,133.5 608.3,133.2 609.2,133.8 C610.0,134.4 610.7,135.1 611.5,136.5 C612.3,137.8 613.0,140.8 613.8,141.8 C614.6,142.9 615.5,142.6 616.3,142.7 C617.1,142.9 617.8,142.4 618.7,142.7 C619.5,143.0 620.5,144.4 621.4,144.5 C622.3,144.7 623.2,144.2 624.1,143.6 C624.9,143.0 625.7,141.7 626.4,140.9 C627.1,140.2 627.6,138.8 628.2,139.1 C628.8,139.4 629.3,141.7 630.0,142.7 C630.6,143.8 631.3,144.5 632.1,145.4 C632.9,146.3 633.9,147.2 634.8,148.1 C635.7,149.0 636.7,149.8 637.5,150.8 C638.3,151.9 639.3,153.8 639.7,154.4" fill="none" stroke="#c42828" stroke-width="1.2" stroke-linejoin="round" stroke-linecap="round" />
<path d="M426.1,64.6 C426.5,65.1 427.9,66.6 428.8,67.3 C429.7,68.1 430.6,68.4 431.5,69.1 C432.4,69.9 433.4,70.8 434.2,71.8 C434.9,72.9 435.4,73.9 436.0,75.4 C436.5,76.9 436.9,78.7 437.4,80.8 C437.8,82.9 438.1,85.3 438.6,88.0 C439.2,90.7 439.7,93.7 440.4,97.0 C441.2,100.2 442.2,104.7 443.1,107.7 C444.0,110.7 444.9,113.1 445.8,114.9 C446.7,116.7 447.8,118.5 448.5,118.5 C449.3,118.5 449.6,117.3 450.3,114.9 C451.1,112.5 452.1,108.0 453.0,104.1 C453.9,100.2 454.8,95.5 455.7,91.6 C456.6,87.7 457.5,83.0 458.4,80.8 C459.3,78.5 460.3,78.0 461.1,78.1 C461.9,78.2 462.6,80.6 463.2,81.7 C463.9,82.7 464.4,84.5 465.0,84.4 C465.7,84.2 466.5,83.5 467.4,80.8 C468.2,78.1 469.2,73.3 470.1,68.2 C471.0,63.1 471.9,56.0 472.8,50.3 C473.6,44.6 474.3,39.2 475.1,34.1 C475.8,29.0 476.5,22.9 477.2,19.7 C478.0,16.6 478.7,15.6 479.4,15.3 C480.1,15.0 480.6,15.7 481.2,18.0 C481.8,20.2 482.3,24.2 483.0,28.7 C483.7,33.2 484.5,40.4 485.3,44.9 C486.1,49.4 487.0,53.4 487.7,55.7 C488.4,57.9 488.8,58.6 489.5,58.4 C490.1,58.1 490.8,57.3 491.6,53.9 C492.4,50.4 493.4,42.5 494.3,37.7 C495.2,32.9 496.2,27.9 497.0,25.1 C497.8,22.4 498.5,20.9 499.2,21.2 C499.8,21.5 500.3,24.2 500.9,26.9 C501.5,29.7 502.1,33.2 502.7,37.7 C503.4,42.2 504.3,49.1 505.1,53.9 C505.9,58.6 506.6,63.1 507.4,66.4 C508.2,69.7 509.1,72.6 509.9,73.6 C510.7,74.7 511.4,73.3 512.3,72.7 C513.1,72.1 514.1,71.5 515.0,70.0 C515.8,68.5 516.4,64.9 517.1,63.7 C517.9,62.5 518.8,62.2 519.4,62.8 C520.1,63.4 520.6,64.9 521.2,67.3 C521.8,69.7 522.3,73.2 523.0,77.2 C523.7,81.2 524.6,87.1 525.4,91.6 C526.1,96.1 526.7,100.4 527.5,104.1 C528.3,107.9 529.3,111.8 530.2,114.0 C531.0,116.3 531.7,118.0 532.5,117.6 C533.3,117.2 534.0,114.8 534.8,111.3 C535.6,107.9 536.5,101.4 537.3,97.0 C538.1,92.5 538.8,87.4 539.7,84.4 C540.5,81.4 541.6,80.5 542.4,79.0 C543.2,77.5 543.8,75.6 544.5,75.4 C545.3,75.3 546.1,77.8 546.9,78.1 C547.6,78.4 548.5,76.2 549.2,77.2 C549.9,78.2 550.5,82.6 551.0,84.4 C551.5,86.2 551.7,87.7 552.2,88.0 C552.7,88.3 553.4,86.6 554.0,86.2 C554.6,85.7 555.2,86.3 555.8,85.3 C556.4,84.2 556.9,80.9 557.6,79.9 C558.3,78.8 559.2,80.6 560.0,79.0 C560.7,77.4 561.5,72.7 562.1,70.0 C562.8,67.3 563.3,65.5 563.9,62.8 C564.5,60.1 565.1,56.9 565.7,53.9 C566.3,50.9 566.8,48.2 567.5,44.9 C568.2,41.6 568.9,37.4 569.7,34.1 C570.4,30.8 571.3,27.2 572.0,25.1 C572.7,23.0 573.3,22.0 573.8,21.5 C574.3,21.1 574.5,23.5 575.0,22.4 C575.5,21.4 576.2,15.4 576.8,15.3 C577.4,15.1 577.9,19.0 578.6,21.5 C579.3,24.1 580.3,27.8 581.0,30.5 C581.7,33.2 582.2,35.5 582.8,37.7 C583.4,39.9 584.0,42.8 584.6,44.0 C585.2,45.2 585.8,44.5 586.4,44.9 C586.9,45.3 587.5,46.6 588.1,46.3 C588.7,46.0 589.3,44.1 589.9,43.1 C590.6,42.1 591.6,41.6 592.3,40.4 C593.0,39.2 593.5,38.5 594.1,35.9 C594.7,33.4 595.2,28.4 595.9,25.1 C596.5,21.8 597.4,18.6 598.0,16.2 C598.7,13.8 599.2,11.4 599.8,10.8 C600.5,10.2 601.2,12.3 602.0,12.6 C602.7,12.9 603.6,11.7 604.3,12.6 C605.0,13.5 605.5,15.0 606.1,18.0 C606.7,20.9 607.3,26.0 607.9,30.5 C608.5,35.0 609.1,40.1 609.7,44.9 C610.3,49.7 610.8,55.7 611.5,59.2 C612.2,62.8 613.1,64.0 613.8,66.4 C614.6,68.8 615.3,72.0 616.0,73.6 C616.7,75.3 617.5,76.6 618.1,76.3 C618.8,76.0 619.3,74.4 619.9,71.8 C620.5,69.3 621.1,63.5 621.7,61.0 C622.3,58.6 622.8,57.5 623.5,57.1 C624.2,56.6 625.1,58.0 625.8,58.4 C626.6,58.7 627.4,58.2 628.2,59.2 C628.9,60.3 629.7,61.9 630.3,64.6 C631.0,67.3 631.5,71.5 632.1,75.4 C632.7,79.3 633.3,84.4 633.9,88.0 C634.5,91.6 635.1,94.3 635.7,97.0 C636.4,99.6 637.2,102.2 637.9,104.1 C638.5,106.1 639.4,107.9 639.7,108.6" fill="none" stroke="#2a2af5" stroke-width="1.2" stroke-linejoin="round" stroke-linecap="round" />
</g>
<line x1="418.9" y1="1.0" x2="640.1999999999999" y2="1.0" stroke="#999" stroke-width="1.6"/>
<line x1="419.15" y1="170.2" x2="639.9499999999999" y2="170.2" stroke="#555" stroke-width="1.1"/>
<line x1="419.7" y1="1.0" x2="419.7" y2="170.2" stroke="#555" stroke-width="1.1"/>
<line x1="639.4" y1="1.0" x2="639.4" y2="170.2" stroke="#555" stroke-width="1.1"/>
<line x1="419.7" y1="158.3" x2="422.7" y2="158.3" stroke="#333" stroke-width="0.9"/>
<text x="416.4" y="161.2" font-size="8.4" text-anchor="end" font-family="Liberation Serif, serif" fill="#000" stroke="#000" stroke-width="0.2" >0.00</text>
<line x1="419.7" y1="134.0" x2="422.7" y2="134.0" stroke="#333" stroke-width="0.9"/>
<text x="416.4" y="136.9" font-size="8.4" text-anchor="end" font-family="Liberation Serif, serif" fill="#000" stroke="#000" stroke-width="0.2" >0.05</text>
<line x1="419.7" y1="109.6" x2="422.7" y2="109.6" stroke="#333" stroke-width="0.9"/>
<text x="416.4" y="112.5" font-size="8.4" text-anchor="end" font-family="Liberation Serif, serif" fill="#000" stroke="#000" stroke-width="0.2" >0.10</text>
<line x1="419.7" y1="85.3" x2="422.7" y2="85.3" stroke="#333" stroke-width="0.9"/>
<text x="416.4" y="88.2" font-size="8.4" text-anchor="end" font-family="Liberation Serif, serif" fill="#000" stroke="#000" stroke-width="0.2" >0.15</text>
<line x1="419.7" y1="60.9" x2="422.7" y2="60.9" stroke="#333" stroke-width="0.9"/>
<text x="416.4" y="63.8" font-size="8.4" text-anchor="end" font-family="Liberation Serif, serif" fill="#000" stroke="#000" stroke-width="0.2" >0.20</text>
<line x1="419.7" y1="36.6" x2="422.7" y2="36.6" stroke="#333" stroke-width="0.9"/>
<text x="416.4" y="39.5" font-size="8.4" text-anchor="end" font-family="Liberation Serif, serif" fill="#000" stroke="#000" stroke-width="0.2" >0.25</text>
<line x1="419.7" y1="12.2" x2="422.7" y2="12.2" stroke="#333" stroke-width="0.9"/>
<text x="416.4" y="15.1" font-size="8.4" text-anchor="end" font-family="Liberation Serif, serif" fill="#000" stroke="#000" stroke-width="0.2" >0.30</text>
<line x1="419.7" y1="170.2" x2="419.7" y2="167.2" stroke="#333" stroke-width="0.9"/>
<text x="419.7" y="181.1" font-size="8.4" text-anchor="middle" font-family="Liberation Serif, serif" fill="#000" stroke="#000" stroke-width="0.2" >8</text>
<line x1="474.6" y1="170.2" x2="474.6" y2="167.2" stroke="#333" stroke-width="0.9"/>
<text x="474.6" y="181.1" font-size="8.4" text-anchor="middle" font-family="Liberation Serif, serif" fill="#000" stroke="#000" stroke-width="0.2" >9</text>
<line x1="529.5" y1="170.2" x2="529.5" y2="167.2" stroke="#333" stroke-width="0.9"/>
<text x="529.5" y="181.1" font-size="8.4" text-anchor="middle" font-family="Liberation Serif, serif" fill="#000" stroke="#000" stroke-width="0.2" >10</text>
<line x1="584.4" y1="170.2" x2="584.4" y2="167.2" stroke="#333" stroke-width="0.9"/>
<text x="584.4" y="181.1" font-size="8.4" text-anchor="middle" font-family="Liberation Serif, serif" fill="#000" stroke="#000" stroke-width="0.2" >11</text>
<line x1="639.3" y1="170.2" x2="639.3" y2="167.2" stroke="#333" stroke-width="0.9"/>
<text x="639.3" y="181.1" font-size="8.4" text-anchor="middle" font-family="Liberation Serif, serif" fill="#000" stroke="#000" stroke-width="0.2" >12</text>
<text x="529.1" y="196.6" font-size="9.6" text-anchor="middle" font-family="Liberation Serif, serif" fill="#000" stroke="#000" stroke-width="0.2" textLength="62.6" lengthAdjust="spacingAndGlyphs" >Frequency [GHz]</text>
<text transform="translate(390.0,82.6) rotate(-90)" x="0" y="3.4" font-size="9.6" text-anchor="middle" font-family="Liberation Serif, serif" fill="#000" stroke="#000" stroke-width="0.2" textLength="39.8" lengthAdjust="spacingAndGlyphs">Reflection</text>
<line x1="502.1" y1="8.1" x2="521.3" y2="8.1" stroke="#2a2af5" stroke-width="1.3"/>
<text x="522.6" y="11.0" font-size="8.2" text-anchor="start" font-family="Liberation Serif, serif" fill="#000" stroke="#000" stroke-width="0.2" >P1</text>
<line x1="533.4" y1="8.1" x2="552.5" y2="8.1" stroke="#6fe62e" stroke-width="1.3"/>
<text x="554.4" y="11.0" font-size="8.2" text-anchor="start" font-family="Liberation Serif, serif" fill="#000" stroke="#000" stroke-width="0.2" >P2</text>
<line x1="502.1" y1="18.8" x2="521.3" y2="18.8" stroke="#fa5a28" stroke-width="1.3"/>
<text x="522.6" y="21.7" font-size="8.2" text-anchor="start" font-family="Liberation Serif, serif" fill="#000" stroke="#000" stroke-width="0.2" >P3</text>
<line x1="533.4" y1="18.8" x2="552.5" y2="18.8" stroke="#c42828" stroke-width="1.3"/>
<text x="554.4" y="21.7" font-size="8.2" text-anchor="start" font-family="Liberation Serif, serif" fill="#000" stroke="#000" stroke-width="0.2" >P4</text>
<text x="554.5" y="223.7" font-size="18.5" text-anchor="middle" font-family="Liberation Serif, serif" fill="#000" stroke="#000" stroke-width="0.2" >(b)</text>
<clipPath id="cc"><rect x="34.8" y="235.9" width="234.0" height="170.29999999999998"/></clipPath>
<g clip-path="url(#cc)">
<path d="M35.2,266.5 L37.0,267.8 L38.8,265.5 L41.2,265.1 L43.9,263.8 L46.6,264.3 L49.3,262.5 L52.1,262.7 L54.8,260.8 L56.2,260.3 L57.5,258.1 L58.9,257.0 L60.2,254.7 L61.6,253.5 L63.0,251.9 L65.7,251.8 L68.4,250.7 L71.1,252.7 L72.5,252.6 L73.9,254.2 L76.6,254.6 L78.0,256.1 L79.3,256.2 L80.3,258.8 L81.1,258.9 L82.9,257.8 L84.8,256.3 L86.6,258.1 L88.4,256.3 L90.8,257.8 L91.5,258.7 L92.2,261.1 L92.9,262.5 L93.5,265.3 L94.0,266.3 L94.6,268.8 L95.1,269.8 L95.7,272.5 L96.3,273.3 L96.9,276.0 L97.5,276.3 L99.8,278.8 L100.8,279.9 L101.7,281.6 L102.3,279.8 L102.9,278.2 L103.5,275.3 L104.1,274.1 L104.7,271.9 L105.3,270.7 L106.0,268.4 L106.8,267.4 L107.5,265.4 L109.3,264.3 L110.2,264.9 L111.1,267.8 L112.0,268.8 L112.9,270.5 L114.7,271.7 L115.4,273.9 L116.0,275.3 L116.5,278.1 L116.9,279.0 L117.3,281.4 L117.7,282.2 L118.0,284.1 L119.3,284.7 L119.8,283.7 L120.5,281.0 L121.1,279.8 L121.7,277.3 L122.3,275.9 L122.9,273.8 L123.8,272.5 L124.7,270.2 L125.3,269.0 L125.9,266.0 L126.5,265.5 L127.4,262.5 L128.4,262.7 L129.3,263.2 L130.2,265.1 L132.0,265.2 L133.8,266.3 L135.6,266.4 L138.3,268.2 L140.2,266.3 L142.0,266.3 L143.8,263.7 L144.4,262.6 L145.0,260.1 L145.6,258.7 L146.3,256.3 L147.0,255.3 L147.8,252.8 L148.9,251.4 L150.2,250.2 L152.7,251.5 L155.4,251.7 L156.8,253.3 L158.2,253.7 L159.5,255.1 L160.9,255.2 L162.3,257.0 L163.6,257.4 L165.0,258.7 L166.3,259.3 L167.8,260.7 L169.1,260.8 L170.9,261.1 L172.7,259.3 L174.5,258.0 L175.5,255.1 L176.3,254.6 L176.8,255.3 L177.2,258.3 L177.6,258.9 L178.5,258.4 L179.4,255.2 L180.4,254.4 L181.2,252.8 L182.7,255.2 L183.3,256.0 L183.9,258.1 L184.5,259.2 L185.1,261.8 L185.7,262.6 L186.3,265.2 L186.9,266.3 L187.5,268.0 L188.1,269.2 L188.6,271.2 L189.1,272.5 L189.5,274.9 L190.0,275.6 L190.9,277.5 L191.8,277.9 L192.4,281.3 L193.0,281.5 L193.4,281.3 L193.8,278.4 L194.1,277.3 L194.5,275.3 L195.1,277.4 L195.8,279.0 L196.5,281.4 L197.2,282.8 L198.1,285.6 L199.0,286.1 L200.9,288.1 L201.8,289.4 L202.7,290.7 L202.9,288.7 L203.2,287.8 L203.4,284.7 L203.7,283.4 L203.9,280.5 L204.1,279.9 L204.8,276.1 L205.4,276.3 L205.6,276.4 L205.9,279.3 L206.1,281.1 L206.4,284.3 L206.7,284.4 L207.1,284.3 L207.6,281.2 L208.1,279.6 L208.7,276.7 L209.3,275.6 L209.9,273.8 L210.8,275.1 L211.8,276.3 L213.6,278.0 L215.4,278.9 L217.2,279.1 L218.1,279.4 L219.0,281.3 L219.9,282.5 L220.8,285.0 L222.3,287.0 L222.6,286.6 L222.9,284.0 L223.2,283.0 L223.6,280.7 L225.4,282.5 L226.3,282.9 L227.2,285.1 L229.0,286.2 L230.8,287.9 L231.3,286.0 L231.7,285.4 L232.2,282.7 L232.6,281.6 L233.1,279.2 L233.5,277.4 L234.0,274.9 L234.5,274.3 L236.3,272.5 L237.2,271.8 L238.1,269.2 L239.0,267.8 L239.9,265.3 L241.7,264.3 L243.0,262.9 L244.4,266.3 L245.9,268.0 L247.4,265.9 L247.9,266.6 L248.4,269.4 L249.0,269.8 L249.9,269.6 L250.8,267.4 L252.6,266.1 L253.3,265.9 L253.9,269.6 L254.0,270.5 L254.2,272.6 L254.4,273.4 L254.6,276.3 L254.7,277.6 L254.9,280.4 L255.1,281.3 L255.2,283.6 L255.3,284.3 L255.6,287.9 L255.8,290.0 L256.0,292.4 L256.3,291.8 L256.4,291.9 L256.6,289.8 L256.8,288.7 L256.9,285.8 L257.1,283.9 L257.3,281.1 L257.5,279.7 L257.7,277.4 L257.8,276.7 L258.0,273.9 L258.1,272.7 L258.3,270.5 L258.5,269.5 L258.6,267.2 L258.8,266.6 L259.0,264.5 L259.6,262.5 L260.2,260.5 L260.8,260.0 L261.7,257.2 L262.6,256.3 L263.7,253.7 L264.8,253.5 L267.2,251.7 L269.0,251.7" fill="none" stroke="#22c4f4" stroke-width="1.25" stroke-linejoin="round" stroke-linecap="round" />
<path d="M35.2,260.3 C35.5,259.6 36.3,257.2 37.0,255.8 C37.7,254.4 38.6,253.0 39.4,252.2 C40.1,251.3 41.0,250.6 41.7,250.7 C42.5,250.9 43.2,251.9 43.9,253.1 C44.6,254.2 45.0,255.8 45.7,257.6 C46.4,259.4 47.1,262.5 47.9,264.0 C48.7,265.5 49.5,265.8 50.3,266.7 C51.0,267.6 51.9,269.3 52.6,269.4 C53.3,269.6 53.8,268.7 54.4,267.6 C55.0,266.5 55.6,265.0 56.2,263.1 C56.9,261.1 57.7,257.8 58.4,255.8 C59.2,253.8 59.9,252.1 60.6,251.3 C61.4,250.4 62.2,250.6 63.0,250.7 C63.8,250.9 64.6,251.3 65.3,252.2 C66.1,253.0 66.8,254.4 67.5,255.8 C68.2,257.2 68.9,258.8 69.7,260.3 C70.4,261.8 71.4,264.4 72.1,264.9 C72.7,265.3 73.2,263.8 73.9,263.1 C74.6,262.3 75.5,261.5 76.2,260.3 C77.0,259.1 77.7,257.0 78.4,255.8 C79.1,254.6 79.8,253.8 80.6,253.1 C81.3,252.3 82.2,251.7 82.9,251.3 C83.7,250.8 84.6,250.3 85.3,250.3 C86.1,250.3 86.8,250.8 87.5,251.3 C88.2,251.7 88.9,252.0 89.7,253.1 C90.4,254.1 91.2,256.1 92.0,257.6 C92.8,259.1 93.6,261.1 94.4,262.2 C95.1,263.2 95.8,264.0 96.6,264.0 C97.3,264.0 98.0,262.3 98.7,262.2 C99.5,262.0 100.3,263.7 101.1,263.1 C101.9,262.5 102.7,260.0 103.5,258.5 C104.2,257.0 104.9,255.2 105.7,254.0 C106.4,252.8 107.1,251.6 107.8,251.3 C108.6,251.0 109.4,251.1 110.2,252.2 C111.0,253.2 111.8,255.5 112.6,257.6 C113.3,259.7 114.0,262.5 114.7,264.9 C115.5,267.3 116.2,270.2 116.9,272.1 C117.7,274.1 118.5,276.7 119.3,276.7 C120.1,276.7 120.9,274.0 121.6,272.1 C122.4,270.3 123.1,267.8 123.8,265.8 C124.5,263.8 125.2,262.0 126.0,260.3 C126.8,258.7 127.6,257.0 128.4,255.8 C129.1,254.6 130.0,253.2 130.7,253.1 C131.5,252.9 132.2,253.8 132.9,254.9 C133.6,255.9 134.3,257.8 135.1,259.4 C135.8,261.1 136.6,263.4 137.4,264.9 C138.3,266.4 139.3,267.3 140.2,268.5 C141.0,269.7 141.8,272.7 142.5,272.1 C143.3,271.5 143.9,267.3 144.7,264.9 C145.5,262.5 146.3,259.7 147.1,257.6 C147.8,255.5 148.5,253.4 149.2,252.2 C150.0,251.0 150.8,250.6 151.4,250.3 C152.0,250.1 152.1,250.6 152.7,250.7 C153.4,250.9 154.5,250.9 155.4,251.3 C156.4,251.6 157.3,252.5 158.2,253.1 C159.1,253.7 160.0,254.1 160.9,254.9 C161.8,255.6 162.7,256.7 163.6,257.6 C164.5,258.5 165.6,258.8 166.3,260.3 C167.1,261.8 167.6,264.9 168.2,266.7 C168.8,268.5 169.4,270.8 170.0,271.2 C170.6,271.7 171.2,270.3 171.8,269.4 C172.4,268.5 173.0,267.0 173.6,265.8 C174.2,264.6 174.8,263.4 175.4,262.2 C176.0,260.9 176.6,259.7 177.2,258.5 C177.8,257.3 178.5,255.9 179.1,254.9 C179.7,253.8 180.2,252.8 180.9,252.2 C181.5,251.6 182.4,251.3 183.1,251.3 C183.7,251.3 184.3,251.6 184.9,252.2 C185.5,252.8 186.1,253.7 186.7,254.9 C187.3,256.1 187.9,257.6 188.5,259.4 C189.1,261.2 189.7,263.7 190.3,265.8 C190.9,267.9 191.6,270.3 192.1,272.1 C192.7,274.0 193.1,276.7 193.6,276.7 C194.1,276.7 194.6,273.5 195.0,272.1 C195.5,270.8 195.9,268.8 196.3,268.5 C196.7,268.2 197.1,269.4 197.6,270.3 C198.0,271.2 198.5,273.5 199.0,274.0 C199.6,274.4 200.3,273.8 200.9,273.1 C201.5,272.3 202.1,270.8 202.7,269.4 C203.3,268.1 203.9,266.8 204.5,264.9 C205.1,262.9 205.7,259.7 206.3,257.6 C206.9,255.5 207.6,253.2 208.1,252.2 C208.7,251.1 209.0,251.0 209.6,251.3 C210.1,251.6 210.8,252.6 211.4,254.0 C212.0,255.3 212.6,257.8 213.2,259.4 C213.8,261.1 214.4,262.5 215.0,264.0 C215.6,265.5 216.2,267.1 216.8,268.5 C217.4,269.9 218.0,270.9 218.7,272.1 C219.3,273.4 220.2,275.5 220.8,275.8 C221.5,276.1 222.0,274.9 222.7,274.0 C223.3,273.1 223.9,271.4 224.5,270.3 C225.1,269.3 225.6,268.7 226.3,267.6 C226.9,266.5 227.7,265.3 228.5,264.0 C229.2,262.6 230.0,261.1 230.8,259.4 C231.6,257.8 232.4,255.3 233.2,254.0 C233.9,252.6 234.5,251.7 235.4,251.3 C236.2,250.8 237.2,251.1 238.1,251.3 C239.0,251.4 240.0,251.4 240.8,252.2 C241.6,252.9 242.4,254.1 243.0,255.8 C243.6,257.5 243.9,260.5 244.4,262.2 C245.0,263.8 245.7,265.3 246.3,265.8 C246.9,266.2 247.5,264.4 248.1,264.9 C248.7,265.3 249.3,267.3 249.9,268.5 C250.5,269.7 251.1,270.6 251.7,272.1 C252.3,273.7 253.0,275.5 253.5,277.6 C254.1,279.7 254.6,283.0 255.0,284.9 C255.4,286.7 255.5,289.4 255.9,288.5 C256.3,287.6 256.7,283.0 257.2,279.4 C257.6,275.8 258.1,270.0 258.6,266.7 C259.2,263.4 259.8,261.2 260.4,259.4 C261.1,257.6 261.9,256.7 262.6,255.8 C263.3,254.9 264.0,254.0 264.8,254.0 C265.5,254.0 266.5,254.6 267.2,255.8 C267.8,257.0 268.7,260.3 269.0,261.2" fill="none" stroke="#66dd2a" stroke-width="1.2" stroke-linejoin="round" stroke-linecap="round" />
<path d="M35.2,254.6 L36.6,255.5 L38.4,254.5 L40.2,255.0 L42.1,253.4 L43.9,253.6 L45.7,252.9 L47.5,254.0 L49.3,253.3 L51.2,254.2 L53.0,253.2 L54.8,254.1 L56.6,252.4 L58.4,253.1 L60.2,251.6 L62.1,251.6 L63.9,250.1 L65.7,251.3 L67.5,250.2 L69.3,251.6 L71.1,250.7 L73.0,251.9 L74.8,251.5 L76.6,253.5 L78.4,253.3 L80.2,253.9 L82.0,252.9 L83.9,253.7 L85.7,252.5 L87.5,254.1 L89.3,253.4 L91.1,255.6 L92.9,255.4 L94.8,257.4 L96.6,257.2 L98.4,259.3 L100.2,258.3 L102.9,257.8 L105.7,256.5 L107.4,256.5 L109.3,255.0 L111.1,255.6 L112.9,254.3 L114.6,256.0 L116.2,256.2 L118.7,258.9 L121.1,257.2 L122.4,257.3 L123.8,255.3 L125.6,255.8 L127.4,253.7 L129.3,254.3 L131.1,252.4 L132.9,254.2 L134.7,253.4 L136.5,254.5 L138.3,253.6 L140.2,255.0 L142.0,253.2 L143.8,254.1 L145.6,252.5 L147.4,252.5 L149.2,250.6 L151.4,251.2 L153.6,250.0 L155.5,250.9 L157.3,250.5 L159.1,252.5 L160.9,251.9 L162.7,253.3 L164.5,252.6 L166.3,253.8 L168.2,253.6 L170.0,254.7 L171.8,253.3 L173.6,253.9 L175.4,253.1 L177.2,254.1 L179.1,253.7 L180.9,255.3 L182.7,254.7 L184.5,256.4 L186.3,255.3 L188.1,257.0 L190.0,256.3 L191.8,257.4 L193.6,257.1 L195.4,258.2 L197.2,258.2 L199.0,259.4 L200.9,258.9 L202.7,260.1 L204.5,259.6 L206.3,259.5 L208.1,257.3 L209.9,257.7 L211.8,256.0 L213.6,257.4 L215.4,257.2 L217.3,258.6 L219.0,257.9 L221.7,259.6 L224.5,257.1 L226.2,257.9 L228.1,256.5 L229.9,257.5 L231.7,256.3 L233.5,256.9 L235.4,255.5 L237.2,255.7 L239.0,254.1 L240.8,254.9 L242.6,253.5 L244.4,253.6 L246.3,252.6 L248.1,253.8 L249.9,253.4 L251.7,254.6 L253.5,253.8 L255.3,254.3 L257.2,253.1 L259.0,253.8 L260.8,252.5 L262.6,253.1 L264.4,251.6 L266.5,251.8 L268.1,250.2" fill="none" stroke="#f55a22" stroke-width="1.25" stroke-linejoin="round" stroke-linecap="round" />
<path d="M35.2,310.3 C35.4,320.3 36.0,369.3 36.3,370.2 C36.6,371.1 36.7,319.7 37.0,315.7 C37.3,311.8 37.8,346.6 38.1,346.6 C38.4,346.6 38.6,313.3 38.8,315.7 C39.1,318.2 39.3,348.9 39.5,361.1 C39.8,373.4 40.0,391.1 40.3,389.3 C40.5,387.5 40.8,357.1 41.2,350.2 C41.5,343.4 42.1,346.6 42.4,348.4 C42.8,350.2 43.1,356.8 43.5,361.1 C43.9,365.5 44.4,374.8 44.8,374.8 C45.2,374.8 45.7,364.6 46.1,361.1 C46.5,357.7 46.8,353.9 47.2,353.9 C47.6,353.9 48.1,358.0 48.4,361.1 C48.8,364.3 49.0,375.4 49.3,372.9 C49.6,370.5 50.0,346.8 50.3,346.6 C50.6,346.5 50.8,371.4 51.2,372.0 C51.5,372.6 51.9,358.7 52.3,350.2 C52.6,341.8 53.0,319.4 53.3,321.2 C53.7,323.0 54.1,359.9 54.4,361.1 C54.8,362.4 55.2,334.8 55.5,328.4 C55.9,322.1 56.2,319.1 56.6,323.0 C57.0,326.9 57.3,348.1 57.7,352.1 C58.1,356.0 58.4,349.3 58.8,346.6 C59.2,343.9 59.8,336.6 60.2,335.7 C60.7,334.8 61.2,339.3 61.7,341.2 C62.2,343.0 62.5,345.4 63.0,346.6 C63.5,347.8 64.2,347.2 64.8,348.4 C65.4,349.6 66.0,351.2 66.6,353.9 C67.2,356.6 67.8,362.2 68.4,364.8 C69.0,367.3 69.6,369.5 70.2,369.3 C70.8,369.2 71.4,364.5 72.1,363.9 C72.7,363.3 73.3,364.8 73.9,365.7 C74.5,366.6 75.1,370.1 75.7,369.3 C76.3,368.6 76.9,363.6 77.5,361.1 C78.1,358.7 78.7,355.8 79.3,354.8 C79.9,353.7 80.5,355.2 81.1,354.8 C81.7,354.3 82.3,353.3 82.9,352.1 C83.6,350.8 84.2,347.8 84.8,347.5 C85.4,347.2 86.0,348.6 86.6,350.2 C87.2,351.9 87.8,355.4 88.4,357.5 C89.0,359.6 89.6,360.8 90.2,363.0 C90.8,365.1 91.4,367.5 92.0,370.2 C92.6,372.9 93.2,376.4 93.8,379.3 C94.5,382.2 95.1,387.5 95.7,387.5 C96.3,387.5 96.9,381.3 97.5,379.3 C98.1,377.3 98.7,376.9 99.3,375.7 C99.9,374.5 100.6,374.5 101.1,372.0 C101.6,369.6 101.9,366.3 102.4,361.1 C102.8,356.0 103.4,344.8 103.8,341.2 C104.3,337.5 104.8,338.7 105.3,339.3 C105.7,339.9 106.1,344.5 106.6,344.8 C107.0,345.1 107.4,343.0 107.8,341.2 C108.3,339.3 108.8,334.5 109.3,333.9 C109.8,333.3 110.3,335.1 110.7,337.5 C111.2,339.9 111.6,344.8 112.0,348.4 C112.4,352.1 112.8,357.8 113.3,359.3 C113.7,360.8 114.2,358.3 114.7,357.5 C115.2,356.8 115.7,353.6 116.2,354.8 C116.7,356.0 117.2,361.4 117.6,364.8 C118.1,368.1 118.6,374.8 119.1,374.8 C119.6,374.8 120.1,368.0 120.5,364.8 C121.0,361.6 121.5,356.3 122.0,355.7 C122.5,355.1 122.8,358.9 123.3,361.1 C123.7,363.4 124.3,370.5 124.7,369.3 C125.2,368.1 125.5,358.9 126.0,353.9 C126.4,348.9 127.0,343.3 127.4,339.3 C127.9,335.4 128.4,332.1 128.9,330.3 C129.4,328.4 129.7,328.1 130.2,328.4 C130.6,328.7 131.0,333.0 131.4,332.1 C131.9,331.2 132.4,325.7 132.9,323.0 C133.4,320.3 133.9,315.7 134.3,315.7 C134.8,315.7 135.2,319.4 135.6,323.0 C136.0,326.6 136.4,335.7 136.9,337.5 C137.3,339.3 137.9,335.1 138.3,333.9 C138.8,332.7 139.0,329.7 139.4,330.3 C139.8,330.9 140.3,335.3 140.7,337.5 C141.1,339.8 141.5,342.7 142.0,343.9 C142.4,345.1 143.0,344.3 143.4,344.8 C143.9,345.2 144.3,346.0 144.7,346.6 C145.1,347.2 145.2,349.9 145.6,348.4 C146.0,346.9 146.6,339.0 147.1,337.5 C147.5,336.0 147.9,337.2 148.3,339.3 C148.8,341.5 149.2,350.8 149.6,350.2 C150.1,349.6 150.6,342.1 151.1,335.7 C151.5,329.4 151.8,314.5 152.2,312.1 C152.6,309.7 153.1,320.3 153.6,321.2 C154.1,322.1 154.5,320.0 155.1,317.5 C155.6,315.1 156.4,307.9 156.9,306.7 C157.4,305.4 157.7,308.2 158.2,310.3 C158.6,312.4 159.0,316.6 159.4,319.4 C159.9,322.1 160.4,324.7 160.9,326.6 C161.4,328.6 161.9,330.9 162.4,331.2 C162.8,331.5 163.2,327.7 163.6,328.4 C164.0,329.2 164.4,333.3 164.9,335.7 C165.3,338.1 165.9,341.5 166.3,343.0 C166.8,344.5 167.3,342.4 167.8,344.8 C168.3,347.2 168.6,353.6 169.1,357.5 C169.5,361.4 169.9,365.8 170.3,368.4 C170.8,371.0 171.3,372.0 171.8,372.9 C172.3,373.9 173.1,373.1 173.6,373.9 C174.2,374.6 174.6,375.2 175.1,377.5 C175.6,379.8 176.2,387.5 176.7,387.5 C177.2,387.5 177.7,381.3 178.2,377.5 C178.6,373.7 179.0,367.8 179.4,364.8 C179.9,361.7 180.4,361.4 180.9,359.3 C181.4,357.2 181.9,355.4 182.3,352.1 C182.8,348.7 183.1,342.7 183.6,339.3 C184.1,336.0 184.5,333.9 185.1,332.1 C185.6,330.3 186.1,329.2 186.7,328.4 C187.3,327.7 187.9,327.5 188.5,327.5 C189.1,327.5 189.7,327.1 190.3,328.4 C190.9,329.8 191.6,333.3 192.1,335.7 C192.7,338.1 193.1,341.5 193.6,343.0 C194.1,344.5 194.6,343.0 195.0,344.8 C195.5,346.6 196.1,350.7 196.5,353.9 C196.9,357.1 197.2,363.9 197.6,363.9 C198.0,363.9 198.6,353.4 199.0,353.9 C199.5,354.3 199.9,362.8 200.5,366.6 C201.0,370.4 201.8,376.0 202.3,376.6 C202.9,377.2 203.2,372.8 203.8,370.2 C204.3,367.6 204.9,364.2 205.4,361.1 C205.9,358.1 206.2,355.4 206.7,352.1 C207.1,348.7 207.6,343.3 208.1,341.2 C208.6,339.0 209.1,340.9 209.6,339.3 C210.0,337.8 210.3,333.9 210.8,332.1 C211.4,330.3 212.1,328.9 212.7,328.4 C213.3,328.0 213.9,329.2 214.5,329.4 C215.1,329.5 215.6,329.1 216.3,329.4 C217.0,329.7 218.0,330.1 218.7,331.2 C219.4,332.2 220.0,333.7 220.5,335.7 C221.0,337.7 221.3,339.9 221.7,343.0 C222.2,346.0 222.6,353.0 223.0,353.9 C223.5,354.8 224.0,347.8 224.5,348.4 C225.0,349.0 225.5,353.6 225.9,357.5 C226.4,361.4 226.8,368.7 227.2,372.0 C227.6,375.4 228.1,377.5 228.5,377.5 C228.9,377.5 229.2,371.4 229.6,372.0 C229.9,372.6 230.4,381.1 230.8,381.1 C231.2,381.1 231.6,376.0 232.1,372.0 C232.6,368.1 233.1,360.5 233.5,357.5 C234.0,354.5 234.5,356.3 235.0,353.9 C235.5,351.5 236.0,347.1 236.5,343.0 C236.9,338.9 237.3,331.5 237.7,329.4 C238.2,327.2 238.5,330.7 239.0,330.3 C239.5,329.8 240.0,328.4 240.5,326.6 C240.9,324.8 241.3,320.9 241.7,319.4 C242.1,317.9 242.6,316.3 243.0,317.5 C243.4,318.8 243.7,323.0 244.1,326.6 C244.5,330.3 244.9,339.0 245.4,339.3 C245.8,339.6 246.2,329.5 246.6,328.4 C247.1,327.4 247.6,330.6 248.1,333.0 C248.6,335.4 249.1,340.1 249.5,343.0 C250.0,345.9 250.4,347.2 250.8,350.2 C251.2,353.3 251.7,357.5 252.1,361.1 C252.5,364.8 252.8,372.3 253.2,372.0 C253.6,371.7 254.0,360.5 254.4,359.3 C254.9,358.1 255.3,361.0 255.7,364.8 C256.2,368.6 256.7,381.4 257.2,382.0 C257.6,382.6 258.2,373.1 258.6,368.4 C259.1,363.7 259.5,356.0 259.9,353.9 C260.3,351.8 260.7,357.5 261.2,355.7 C261.6,353.9 262.2,345.7 262.6,343.0 C263.0,340.3 263.3,335.9 263.7,339.3 C264.1,342.8 264.4,364.5 264.8,363.9 C265.2,363.3 265.8,341.0 266.2,335.7 C266.7,330.4 267.2,336.6 267.7,332.1 C268.1,327.5 268.8,312.4 269.0,308.5" fill="none" stroke="#5a1ef0" stroke-width="1.3" stroke-linejoin="round" stroke-linecap="round" />
</g>
<rect x="34.8" y="235.9" width="234.0" height="170.29999999999998" fill="none" stroke="#999" stroke-width="1.3"/>
<line x1="34.8" y1="391.7" x2="37.8" y2="391.7" stroke="#333" stroke-width="0.9"/>
<text x="31.1" y="394.1" font-size="9.0" text-anchor="end" font-family="Liberation Serif, serif" fill="#000" stroke="#000" stroke-width="0.2" >0</text>
<line x1="34.8" y1="363.4" x2="37.8" y2="363.4" stroke="#333" stroke-width="0.9"/>
<text x="31.1" y="365.8" font-size="9.0" text-anchor="end" font-family="Liberation Serif, serif" fill="#000" stroke="#000" stroke-width="0.2" >20</text>
<line x1="34.8" y1="335.1" x2="37.8" y2="335.1" stroke="#333" stroke-width="0.9"/>
<text x="31.1" y="337.6" font-size="9.0" text-anchor="end" font-family="Liberation Serif, serif" fill="#000" stroke="#000" stroke-width="0.2" >40</text>
<line x1="34.8" y1="306.8" x2="37.8" y2="306.8" stroke="#333" stroke-width="0.9"/>
<text x="31.1" y="309.3" font-size="9.0" text-anchor="end" font-family="Liberation Serif, serif" fill="#000" stroke="#000" stroke-width="0.2" >60</text>
<line x1="34.8" y1="278.5" x2="37.8" y2="278.5" stroke="#333" stroke-width="0.9"/>
<text x="31.1" y="281.0" font-size="9.0" text-anchor="end" font-family="Liberation Serif, serif" fill="#000" stroke="#000" stroke-width="0.2" >80</text>
<line x1="34.8" y1="250.2" x2="37.8" y2="250.2" stroke="#333" stroke-width="0.9"/>
<text x="31.1" y="252.7" font-size="9.0" text-anchor="end" font-family="Liberation Serif, serif" fill="#000" stroke="#000" stroke-width="0.2" >100</text>
<line x1="34.8" y1="406.2" x2="34.8" y2="403.2" stroke="#333" stroke-width="0.9"/>
<text x="34.8" y="416.2" font-size="9.2" text-anchor="middle" font-family="Liberation Serif, serif" fill="#000" stroke="#000" stroke-width="0.2" >8</text>
<line x1="93.3" y1="406.2" x2="93.3" y2="403.2" stroke="#333" stroke-width="0.9"/>
<text x="93.3" y="416.2" font-size="9.2" text-anchor="middle" font-family="Liberation Serif, serif" fill="#000" stroke="#000" stroke-width="0.2" >9</text>
<line x1="151.8" y1="406.2" x2="151.8" y2="403.2" stroke="#333" stroke-width="0.9"/>
<text x="151.8" y="416.2" font-size="9.2" text-anchor="middle" font-family="Liberation Serif, serif" fill="#000" stroke="#000" stroke-width="0.2" >10</text>
<line x1="210.3" y1="406.2" x2="210.3" y2="403.2" stroke="#333" stroke-width="0.9"/>
<text x="210.3" y="416.2" font-size="9.2" text-anchor="middle" font-family="Liberation Serif, serif" fill="#000" stroke="#000" stroke-width="0.2" >11</text>
<line x1="268.8" y1="406.2" x2="268.8" y2="403.2" stroke="#333" stroke-width="0.9"/>
<text x="268.8" y="416.2" font-size="9.2" text-anchor="middle" font-family="Liberation Serif, serif" fill="#000" stroke="#000" stroke-width="0.2" >12</text>
<line x1="64.0" y1="406.2" x2="64.0" y2="404.2" stroke="#333" stroke-width="0.9"/>
<line x1="122.5" y1="406.2" x2="122.5" y2="404.2" stroke="#333" stroke-width="0.9"/>
<line x1="181.1" y1="406.2" x2="181.1" y2="404.2" stroke="#333" stroke-width="0.9"/>
<line x1="239.6" y1="406.2" x2="239.6" y2="404.2" stroke="#333" stroke-width="0.9"/>
<text x="151.6" y="432.1" font-size="9.6" text-anchor="middle" font-family="Liberation Serif, serif" fill="#000" stroke="#000" stroke-width="0.2" textLength="66" lengthAdjust="spacingAndGlyphs" >Frequency [GHz]</text>
<text transform="translate(5.3,316.5) rotate(-90)" x="0" y="3.3" font-size="9.4" text-anchor="middle" font-family="Liberation Serif, serif" fill="#000" stroke="#000" stroke-width="0.2" textLength="91.9" lengthAdjust="spacingAndGlyphs">Effective absorption [%]</text>
<line x1="50" y1="295.8" x2="69.5" y2="295.8" stroke="#5a1ef0" stroke-width="1.5"/>
<text x="72.0" y="298.8" font-size="8.6" text-anchor="start" font-family="Liberation Sans, sans-serif" fill="#000" stroke="#000" stroke-width="0.2" >P1</text>
<line x1="84.4" y1="295.8" x2="103.8" y2="295.8" stroke="#22c4f4" stroke-width="1.5"/>
<text x="106.3" y="298.8" font-size="8.6" text-anchor="start" font-family="Liberation Sans, sans-serif" fill="#000" stroke="#000" stroke-width="0.2" >P2</text>
<line x1="50" y1="306.0" x2="69.5" y2="306.0" stroke="#66dd2a" stroke-width="1.5"/>
<text x="72.0" y="309.0" font-size="8.6" text-anchor="start" font-family="Liberation Sans, sans-serif" fill="#000" stroke="#000" stroke-width="0.2" >P3</text>
<line x1="84.4" y1="306.0" x2="103.8" y2="306.0" stroke="#f55a22" stroke-width="1.5"/>
<text x="106.3" y="309.0" font-size="8.6" text-anchor="start" font-family="Liberation Sans, sans-serif" fill="#000" stroke="#000" stroke-width="0.2" >P4</text>
<text x="179.0" y="454.3" font-size="19" text-anchor="middle" font-family="Liberation Serif, serif" fill="#000" stroke="#000" stroke-width="0.2" >(c)</text>
<clipPath id="cd"><rect x="413.6" y="237.4" width="224.39999999999998" height="157.9"/></clipPath>
<g clip-path="url(#cd)">
<path d="M413.5,369.5 L416.1,369.1 L418.6,367.1 L421.2,367.1 L423.7,365.8 L426.2,367.4 L428.8,367.2 L431.3,367.4 L432.6,365.0 L433.9,364.0 L434.4,361.6 L435.0,361.0 L435.5,357.9 L436.1,357.0 L436.5,354.5 L436.9,353.9 L437.3,351.2 L437.7,350.3 L438.1,347.5 L438.6,346.6 L439.2,343.9 L439.7,343.5 L440.1,340.7 L440.6,340.0 L441.1,337.8 L441.5,337.0 L441.8,334.0 L442.0,333.3 L442.3,330.9 L442.5,329.8 L442.8,326.7 L443.2,325.5 L443.5,323.7 L443.8,325.8 L444.0,326.7 L444.3,329.7 L444.5,330.8 L444.8,333.6 L445.0,334.0 L445.2,337.1 L445.5,337.7 L445.7,340.3 L446.3,341.6 L446.9,343.8 L447.2,341.8 L447.6,340.5 L447.9,337.5 L448.3,336.6 L448.9,332.7 L449.6,332.3 L449.9,332.3 L450.2,335.5 L450.5,337.1 L450.8,340.3 L451.0,340.9 L451.2,343.4 L451.4,344.6 L451.6,347.2 L451.8,348.3 L452.0,350.5 L453.3,351.8 L455.0,351.7 L455.9,352.1 L456.7,355.1 L457.1,356.2 L457.5,359.4 L458.0,360.0 L458.4,362.0 L460.4,359.6 L461.6,358.5 L462.6,356.4 L464.3,358.3 L466.0,356.4 L466.9,358.7 L467.7,360.2 L468.3,363.1 L468.8,363.9 L469.4,367.1 L470.1,368.0 L470.9,371.6 L471.6,372.1 L472.6,375.4 L473.7,375.6 L476.2,377.6 L477.3,375.2 L478.4,374.9 L479.4,372.7 L480.4,372.5 L481.4,370.2 L482.5,369.5 L483.6,367.1 L484.7,367.1 L486.4,368.8 L488.1,370.8 L488.9,371.4 L489.7,373.7 L490.8,375.0 L491.9,377.5 L493.0,378.1 L494.0,379.8 L496.0,377.3 L497.1,377.3 L498.2,374.9 L500.4,374.0 L501.4,371.2 L502.4,370.7 L503.5,368.0 L504.5,367.2 L506.2,364.6 L507.9,367.0 L510.1,368.1 L512.3,370.5 L514.3,369.5 L515.3,369.4 L516.3,367.0 L518.5,366.7 L519.3,363.7 L520.0,362.8 L520.7,359.4 L521.1,359.0 L521.4,356.8 L521.8,356.2 L522.1,353.3 L522.4,352.8 L522.8,349.5 L522.9,348.6 L523.1,346.5 L523.3,345.5 L523.4,343.4 L523.6,342.4 L523.7,339.7 L523.9,338.7 L524.0,335.9 L524.2,335.3 L524.3,332.1 L524.5,331.4 L524.6,328.9 L524.8,327.7 L524.9,324.0 L525.1,322.7 L525.2,319.5 L525.3,319.0 L525.5,316.4 L525.6,316.5 L525.8,315.7 L526.0,316.8 L526.1,317.2 L526.3,319.4 L526.4,320.1 L526.6,322.8 L526.8,324.2 L526.9,327.2 L527.1,329.0 L527.3,331.9 L527.4,332.8 L527.6,335.7 L527.7,335.7 L528.1,339.6 L528.4,340.5 L528.8,342.6 L529.1,342.8 L529.8,345.5 L530.4,345.7 L531.0,349.3 L531.6,349.1 L532.2,348.6 L532.8,345.8 L533.5,348.4 L534.2,349.6 L534.8,352.3 L535.5,352.5 L536.9,356.2 L538.4,355.9 L540.1,358.7 L540.9,359.7 L541.8,362.3 L543.5,363.2 L545.2,363.2 L546.9,359.2 L547.4,358.6 L548.0,355.4 L548.6,355.1 L549.7,355.9 L550.1,358.7 L550.4,360.1 L550.8,363.3 L551.1,362.6 L551.3,362.8 L551.5,361.0 L551.7,360.0 L551.9,356.7 L552.1,355.6 L552.3,352.9 L552.4,351.8 L552.8,348.6 L553.1,346.9 L553.3,344.2 L553.6,345.4 L553.8,344.7 L554.0,347.5 L554.1,348.4 L554.3,351.1 L554.5,352.4 L554.6,355.2 L554.8,356.1 L555.1,359.2 L555.5,360.1 L555.8,362.3 L556.2,363.2 L557.9,366.4 L558.7,367.8 L559.6,370.6 L560.4,371.7 L561.3,373.9 L562.9,375.8 L564.6,378.3 L566.3,374.8 L567.7,378.1 L569.4,380.0 L571.4,381.7 L573.4,379.6 L575.1,379.0 L576.8,375.8 L578.5,377.3 L579.4,374.9 L580.2,374.1 L581.9,373.7 L583.6,375.8 L585.3,375.8 L587.5,377.3 L589.7,377.4 L591.7,379.9 L593.8,379.9 L596.0,380.3 L598.2,378.1 L600.2,380.1 L602.2,377.2 L603.9,375.8 L605.6,372.9 L606.7,372.2 L607.8,369.6 L610.0,369.2 L612.1,366.5 L613.8,366.5 L615.4,367.2 L617.1,367.0 L618.8,368.3 L620.5,370.0 L622.2,369.9 L622.6,372.1 L623.1,373.1 L623.5,375.7 L623.9,376.7 L624.8,380.1 L625.6,380.5 L627.3,378.9 L627.9,376.7 L628.4,376.3 L629.0,373.2 L629.4,372.5 L629.8,369.8 L630.2,369.3 L630.6,366.6 L631.0,365.7 L631.5,363.1 L631.9,361.7 L632.4,358.8 L632.8,358.2 L633.2,355.9 L634.1,355.2 L634.9,352.6 L635.8,352.3 L636.6,349.3 L637.1,348.4 L637.5,345.7 L637.8,345.0" fill="none" stroke="#4a4a4a" stroke-width="1.15" stroke-linejoin="round" stroke-linecap="round" />
<path d="M413.5,354.5 L416.1,353.5 L418.6,351.8 L421.2,353.4 L423.7,351.0 L426.2,352.8 L428.8,353.0 L431.3,352.0 L432.6,350.3 L433.9,349.4 L434.6,347.1 L435.4,345.6 L436.1,342.6 L436.5,342.2 L436.9,339.5 L437.3,338.2 L437.7,335.5 L438.1,335.4 L438.7,332.1 L439.2,331.4 L439.8,328.7 L440.7,328.1 L441.5,325.4 L441.9,325.1 L442.2,322.8 L442.5,321.5 L442.8,319.0 L443.1,318.2 L443.3,315.2 L443.5,313.9 L443.7,311.2 L443.9,311.3 L444.2,310.9 L444.5,313.6 L444.9,315.8 L445.1,317.8 L445.3,318.7 L445.5,321.7 L445.8,322.8 L446.0,325.4 L446.2,325.7 L447.4,328.2 L447.7,326.0 L448.0,325.4 L448.3,322.4 L448.6,321.6 L449.1,317.9 L449.6,318.4 L449.8,318.0 L450.1,320.5 L450.3,321.4 L450.6,324.5 L450.8,325.7 L451.0,328.5 L451.3,329.5 L451.5,332.0 L451.7,333.0 L452.0,335.2 L452.6,336.2 L453.3,338.5 L455.0,337.3 L455.9,339.7 L456.7,340.8 L457.3,343.7 L457.9,344.7 L458.4,346.9 L460.1,344.1 L461.8,343.8 L463.5,343.4 L464.5,343.1 L465.5,341.2 L466.4,343.0 L467.2,344.2 L467.6,347.0 L468.1,347.2 L468.5,350.2 L469.0,351.3 L469.4,353.8 L470.2,355.1 L470.9,357.4 L471.6,358.0 L472.8,360.0 L474.0,360.6 L476.2,363.2 L477.3,361.3 L478.4,360.3 L479.4,357.8 L480.4,357.3 L482.5,354.7 L483.6,353.8 L484.7,351.9 L486.4,355.6 L488.1,355.9 L489.7,359.0 L490.8,359.5 L491.9,362.1 L493.0,363.3 L494.0,365.8 L495.7,362.6 L496.7,362.0 L497.7,359.7 L498.8,358.9 L499.9,357.1 L502.1,356.2 L503.2,354.0 L504.1,353.5 L505.8,350.5 L507.5,352.0 L509.2,353.7 L511.8,355.4 L514.3,355.0 L515.6,354.8 L516.8,351.9 L519.4,352.1 L520.1,349.7 L520.8,348.7 L521.4,345.7 L521.8,345.7 L522.1,342.9 L522.5,342.7 L522.8,339.7 L523.1,338.4 L523.3,336.4 L523.4,335.7 L523.6,333.3 L523.7,332.1 L523.9,329.8 L524.0,328.6 L524.2,326.1 L524.3,324.8 L524.5,322.6 L524.6,321.3 L524.7,318.8 L524.7,317.2 L524.8,314.3 L524.9,312.9 L525.0,309.5 L525.1,308.3 L525.1,306.0 L525.2,305.5 L525.4,303.9 L525.5,304.3 L525.6,303.8 L525.7,306.3 L525.9,306.5 L526.0,309.3 L526.2,310.7 L526.4,313.4 L526.5,315.2 L526.7,318.2 L526.8,319.5 L527.0,322.4 L527.1,323.7 L527.3,326.0 L527.4,325.6 L527.7,326.5 L527.9,323.4 L528.0,321.2 L528.2,318.9 L528.8,320.9 L529.4,322.0 L529.7,324.8 L529.9,325.7 L530.2,328.3 L530.5,329.5 L530.8,331.9 L531.5,333.1 L532.1,335.2 L532.8,332.3 L533.5,331.5 L533.8,331.6 L534.2,335.0 L534.5,335.6 L534.8,338.7 L535.5,339.2 L536.2,342.0 L537.0,342.8 L537.9,345.2 L538.7,346.2 L539.6,348.3 L541.3,349.7 L543.0,349.3 L544.7,347.0 L546.4,346.2 L547.7,342.3 L548.2,341.7 L548.6,338.4 L549.1,338.8 L549.7,338.4 L550.2,341.8 L550.8,343.5 L551.4,345.1 L551.7,343.5 L552.0,342.4 L552.2,339.6 L552.5,338.8 L552.8,335.6 L553.1,334.5 L553.5,331.2 L553.8,330.6 L554.1,329.3 L554.3,330.8 L554.5,330.9 L554.7,334.2 L554.9,335.1 L555.1,338.3 L555.3,339.4 L555.6,342.3 L556.0,343.4 L556.3,346.4 L556.7,346.7 L557.0,349.4 L557.9,350.6 L558.7,353.1 L559.6,353.9 L560.4,356.9 L561.3,358.2 L562.1,360.2 L563.8,361.8 L565.5,364.9 L567.2,365.7 L568.9,365.8 L570.6,362.6 L572.3,364.0 L574.0,363.8 L575.6,363.9 L577.3,360.6 L579.0,360.2 L580.7,358.4 L582.4,360.6 L584.1,360.3 L585.8,362.4 L588.0,362.1 L590.0,364.1 L592.1,363.5 L594.3,365.4 L596.5,365.6 L598.5,365.4 L600.5,363.1 L602.2,363.1 L603.9,360.5 L605.6,360.4 L607.3,358.1 L608.4,357.8 L609.5,355.4 L611.2,354.5 L612.9,351.0 L614.6,353.1 L616.3,352.8 L618.0,355.7 L619.7,353.6 L620.8,355.6 L621.9,356.1 L622.9,358.2 L623.9,359.6 L624.4,362.0 L624.8,363.6 L625.2,366.4 L625.6,366.5 L626.5,366.4 L627.3,362.8 L627.7,362.4 L628.1,359.8 L628.5,358.9 L629.0,356.1 L629.5,355.5 L630.0,352.9 L630.5,351.9 L631.0,349.5 L631.6,348.3 L632.2,345.6 L632.7,345.2 L633.6,342.4 L634.4,342.0 L635.3,339.9 L636.1,338.4 L636.2,336.2 L636.4,335.8 L636.5,333.0 L636.7,332.1 L636.8,329.0 L637.0,327.9 L637.1,324.9 L637.2,324.3 L637.3,321.2 L637.4,321.1 L637.5,318.6" fill="none" stroke="#ee3b3b" stroke-width="1.15" stroke-linejoin="round" stroke-linecap="round" />
<path d="M413.5,337.7 L416.1,337.9 L418.6,335.2 L421.2,336.6 L423.7,334.4 L426.2,334.1 L428.8,334.6 L431.3,334.0 L432.6,332.1 L433.9,331.7 L434.6,329.4 L435.4,328.6 L436.1,325.8 L436.5,325.3 L436.9,322.7 L437.3,321.4 L437.7,319.1 L438.1,318.0 L438.5,315.3 L439.0,314.6 L439.4,311.8 L439.8,311.1 L441.5,308.9 L441.7,308.9 L442.0,306.5 L442.2,305.7 L442.4,303.0 L442.6,301.9 L442.8,298.7 L443.0,298.1 L443.1,295.3 L443.2,294.3 L443.3,290.9 L443.4,289.9 L443.5,287.0 L443.6,285.5 L443.7,282.7 L443.8,282.5 L443.9,280.7 L444.0,281.2 L444.2,279.9 L444.4,282.1 L444.5,282.5 L444.7,285.8 L444.9,287.5 L445.0,290.9 L445.2,292.0 L445.4,294.6 L445.5,295.6 L445.7,298.3 L445.9,299.1 L446.0,302.3 L446.2,302.5 L446.4,305.1 L446.6,305.5 L447.9,307.8 L448.2,305.7 L448.5,304.5 L448.8,301.7 L449.1,301.5 L449.7,300.6 L450.3,304.7 L450.4,305.0 L450.6,307.1 L450.7,308.4 L450.9,310.8 L451.0,312.1 L451.2,314.8 L451.3,315.8 L451.5,318.6 L451.6,318.6 L452.0,321.9 L452.3,323.1 L452.6,325.5 L453.0,326.1 L453.3,328.6 L455.0,329.2 L455.7,331.9 L456.4,332.5 L458.4,334.8 L461.0,332.2 L462.6,331.6 L464.3,332.6 L466.0,331.6 L466.9,332.2 L467.7,335.0 L468.8,336.2 L469.9,339.3 L470.9,340.5 L472.0,343.4 L473.2,344.3 L474.5,345.8 L477.0,346.2 L478.3,345.9 L479.6,343.5 L480.9,342.9 L482.1,340.0 L483.4,339.6 L484.7,337.2 L486.9,339.0 L488.9,340.3 L489.9,342.4 L490.9,343.5 L492.0,346.0 L493.1,345.8 L495.3,345.1 L496.4,342.5 L497.4,342.4 L499.4,342.4 L500.5,341.9 L501.6,339.0 L502.7,338.2 L503.8,335.5 L504.8,335.0 L505.8,332.1 L507.9,333.4 L509.0,334.3 L510.1,337.1 L512.3,336.7 L514.3,338.2 L515.3,335.8 L516.3,335.1 L518.5,333.3 L519.6,332.3 L520.7,329.3 L521.3,328.8 L521.8,326.5 L522.3,325.4 L522.8,322.3 L522.9,322.1 L523.1,319.5 L523.2,319.2 L523.4,316.8 L523.5,315.9 L523.6,313.5 L523.7,312.2 L523.9,309.6 L524.0,308.2 L524.1,305.2 L524.2,304.9 L524.3,302.2 L524.3,301.1 L524.4,298.7 L524.5,297.6 L524.5,294.9 L524.6,293.9 L524.7,290.4 L524.7,289.6 L524.8,286.6 L524.9,285.7 L525.0,283.4 L525.0,282.6 L525.1,280.2 L525.2,280.2 L525.3,278.5 L527.4,281.0 L527.5,278.7 L527.6,278.7 L527.7,275.5 L527.8,275.1 L527.9,271.9 L528.0,270.3 L528.0,267.1 L528.1,266.2 L528.2,262.9 L528.3,262.2 L528.3,259.2 L528.4,259.1 L528.5,257.3 L528.6,258.3 L528.6,257.1 L528.7,258.8 L528.8,258.7 L528.9,261.0 L528.9,262.0 L529.0,265.0 L529.1,265.5 L529.1,268.6 L529.2,270.1 L529.3,273.2 L529.4,274.0 L529.4,277.4 L529.5,277.9 L529.6,281.0 L529.7,281.5 L529.8,284.5 L529.8,285.4 L529.9,288.1 L530.0,289.1 L530.1,291.9 L530.2,292.5 L530.3,295.3 L530.4,296.5 L530.5,298.9 L530.6,299.5 L530.7,301.6 L530.8,302.2 L531.0,305.8 L531.3,306.8 L531.6,309.0 L531.9,309.2 L532.1,311.4 L533.3,312.2 L533.9,310.9 L534.5,308.8 L534.7,310.5 L534.8,310.8 L535.0,314.0 L535.1,314.7 L535.3,317.7 L535.5,318.7 L535.7,321.8 L535.9,322.0 L536.2,325.4 L536.7,326.1 L537.1,328.9 L537.5,329.1 L538.5,332.0 L539.6,332.2 L540.7,335.5 L541.8,335.5 L544.0,337.8 L546.0,336.0 L546.6,335.3 L547.2,332.2 L547.7,331.4 L549.1,329.1 L549.4,331.4 L549.7,331.8 L550.0,335.4 L550.2,336.1 L550.8,339.4 L551.4,339.0 L551.8,339.3 L552.1,336.6 L552.5,335.1 L552.8,332.1 L553.1,331.4 L553.3,327.6 L553.6,326.5 L553.8,324.6 L554.1,326.9 L554.3,327.7 L554.5,331.4 L554.8,332.5 L555.2,335.4 L555.7,336.5 L556.2,338.3 L557.9,335.8 L558.9,337.5 L559.9,338.2 L561.0,340.5 L562.1,341.1 L564.3,343.4 L566.3,343.5 L567.7,341.8 L568.5,342.1 L569.4,345.0 L571.4,346.1 L573.4,347.6 L575.6,347.0 L577.3,346.2 L579.0,343.7 L580.7,341.6 L582.4,341.7 L584.1,344.5 L586.3,342.4 L588.4,344.4 L590.4,344.4 L592.6,347.2 L594.8,344.1 L596.8,344.4 L599.4,342.5 L601.9,344.7 L602.9,341.1 L603.9,340.4 L606.1,337.7 L608.3,340.0 L610.4,337.6 L611.2,336.7 L612.1,333.9 L612.9,332.8 L613.8,330.5 L615.4,333.4 L617.1,333.2 L618.8,332.5 L620.5,333.0 L622.2,331.7 L623.9,328.8 L624.2,331.4 L624.4,331.8 L624.6,335.3 L624.9,336.3 L625.1,339.2 L625.4,339.7 L625.6,341.9 L626.2,340.5 L626.7,339.1 L627.3,335.8 L628.3,334.3 L629.3,331.4 L630.5,331.2 L631.5,328.7 L632.4,327.9 L633.2,325.4 L634.1,328.6 L634.9,329.2 L635.2,329.1 L635.5,326.4 L635.8,325.9 L636.1,322.5 L636.4,321.3 L636.6,318.9 L636.9,317.6 L637.2,315.0 L637.4,314.3 L637.6,311.6 L637.8,311.5" fill="none" stroke="#2e9e55" stroke-width="1.15" stroke-linejoin="round" stroke-linecap="round" />
<path d="M413.5,347.9 L414.0,347.1 L414.6,345.1 L415.2,343.4 L415.6,341.6 L415.9,340.3 L416.2,338.0 L416.6,336.7 L416.9,334.3 L417.2,333.4 L417.4,331.4 L417.7,329.9 L417.9,327.7 L418.2,326.4 L418.4,324.1 L418.6,322.9 L418.8,320.9 L419.0,319.4 L419.2,317.4 L419.3,316.3 L419.5,313.9 L419.6,312.9 L419.8,310.7 L420.0,309.1 L420.2,306.2 L420.3,304.1 L420.5,301.6 L420.7,300.7 L420.8,299.7 L421.0,300.5 L421.2,301.5 L421.3,303.8 L421.5,305.8 L421.7,308.8 L421.8,310.7 L421.9,312.7 L422.0,313.6 L422.1,315.7 L422.2,317.2 L422.3,319.4 L422.4,320.9 L422.5,323.0 L422.6,324.2 L422.7,326.4 L422.9,327.5 L423.0,329.8 L423.2,331.3 L423.3,333.7 L423.5,335.0 L423.7,336.9 L423.8,338.3 L424.0,340.2 L424.2,341.3 L424.5,343.6 L424.8,345.1 L425.2,347.4 L425.5,348.3 L425.9,350.0 L426.9,351.7 L427.9,353.3 L430.0,354.6 L431.7,356.7 L432.5,355.2 L433.4,353.6 L433.8,351.8 L434.2,350.6 L434.6,348.3 L435.0,346.6 L435.3,344.9 L435.5,344.0 L435.8,341.6 L436.0,340.4 L436.3,338.2 L436.5,337.0 L436.7,334.4 L436.9,333.4 L437.1,331.5 L437.3,330.2 L437.4,328.1 L437.6,326.9 L437.8,324.6 L438.0,323.3 L438.1,321.2 L438.3,319.9 L438.4,317.4 L438.6,316.3 L438.7,314.1 L438.8,313.0 L438.9,310.5 L439.0,309.0 L439.2,306.8 L439.3,305.5 L439.4,303.3 L439.5,302.0 L439.6,300.0 L439.7,298.9 L439.8,297.2 L440.0,295.0 L440.2,292.0 L440.3,290.1 L440.5,287.8 L440.6,287.0 L440.8,286.0 L440.9,287.1 L441.1,287.7 L441.2,289.9 L441.4,291.5 L441.5,294.4 L441.7,296.5 L441.8,299.4 L441.9,300.3 L442.0,302.2 L442.1,303.3 L442.1,305.6 L442.2,306.8 L442.3,309.1 L442.4,310.4 L442.5,312.7 L442.6,314.2 L442.6,316.5 L442.7,317.6 L442.8,319.7 L443.0,320.8 L443.1,323.3 L443.2,324.8 L443.3,326.8 L443.5,328.3 L443.6,330.4 L443.8,331.5 L443.9,333.8 L444.0,334.7 L444.2,336.4 L444.4,338.2 L444.7,340.5 L444.9,342.1 L445.2,344.0 L445.4,344.9 L445.7,346.5 L446.6,348.9 L447.4,351.0 L449.1,352.0 L450.8,351.7 L451.6,349.4 L452.5,348.3 L454.2,347.8 L455.0,347.1 L455.9,344.4 L456.4,343.6 L457.0,341.7 L457.6,339.8 L457.9,338.1 L458.1,337.0 L458.4,335.1 L458.7,333.7 L459.0,331.3 L459.3,329.7 L459.4,328.0 L459.6,326.7 L459.8,324.8 L459.9,323.6 L460.1,321.4 L460.3,319.9 L460.4,317.8 L460.6,316.6 L460.8,314.1 L461.0,313.0 L461.1,310.7 L461.3,309.3 L461.4,306.5 L461.6,305.0 L461.8,302.4 L461.9,300.8 L462.1,298.3 L462.2,297.1 L462.4,295.3 L462.5,294.8 L462.6,293.8 L462.9,294.2 L463.1,294.7 L463.3,297.0 L463.4,299.0 L463.6,302.0 L463.8,303.9 L464.0,305.9 L464.1,307.1 L464.3,309.1 L464.4,310.4 L464.6,312.8 L464.7,314.1 L464.9,316.3 L465.0,317.4 L465.2,319.6 L465.4,320.8 L465.6,323.0 L465.8,324.4 L466.0,326.7 L466.2,327.8 L466.5,330.0 L466.7,331.3 L466.9,333.0 L467.2,334.6 L467.4,336.8 L467.7,338.3 L468.0,340.2 L468.3,341.4 L468.6,343.3 L469.1,345.0 L469.6,347.3 L470.1,348.4 L470.6,350.2 L472.8,351.4 L475.0,352.8 L477.0,351.3 L478.7,350.2 L479.2,348.1 L479.6,347.2 L480.0,344.9 L480.4,343.2 L480.8,341.4 L481.1,340.3 L481.4,338.2 L481.8,336.7 L482.1,334.5 L482.4,333.1 L482.6,330.9 L482.9,329.8 L483.1,327.4 L483.4,326.1 L483.6,323.9 L483.8,323.0 L484.3,319.7 L484.7,318.0 L485.2,316.7 L485.6,317.8 L485.9,319.5 L486.4,322.9 L486.5,323.9 L486.7,326.0 L487.0,327.3 L487.2,329.4 L487.4,330.8 L487.6,333.1 L487.8,334.5 L488.1,336.6 L488.3,337.9 L488.6,340.2 L488.9,341.7 L489.1,343.6 L489.4,344.8 L489.7,346.8 L490.3,348.0 L490.8,350.5 L491.4,351.4 L491.9,353.6 L492.6,354.8 L493.3,357.3 L494.0,357.9 L495.7,360.1 L496.5,358.3 L497.4,356.8 L499.1,354.6 L499.7,353.8 L500.4,351.6 L501.1,350.2 L501.6,348.1 L502.2,346.8 L502.8,344.7 L503.3,343.3 L503.7,341.2 L504.0,340.0 L504.3,337.7 L504.7,336.3 L505.0,334.4 L505.4,332.7 L505.9,330.3 L506.3,329.0 L506.7,327.7 L507.3,328.9 L507.9,330.9 L508.1,332.7 L508.4,333.9 L508.6,336.2 L508.9,337.7 L509.2,339.9 L509.5,341.1 L509.9,343.6 L510.2,344.7 L510.6,346.8 L510.9,347.9 L511.5,350.3 L512.0,351.7 L512.6,353.5 L513.6,354.9 L514.6,357.0 L516.8,358.1 L518.5,357.0 L519.1,355.0 L519.7,353.7 L520.2,351.2 L520.6,350.3 L520.9,348.3 L521.2,347.0 L521.6,344.9 L521.9,343.4 L522.2,341.4 L522.4,339.9 L522.7,337.9 L522.9,336.3 L523.2,334.1 L523.4,333.1 L523.6,330.9 L523.9,329.6 L524.1,327.6 L524.2,326.8 L524.5,324.8 L524.8,323.0 L525.0,321.1 L525.2,319.8 L525.5,317.6 L525.8,316.0 L526.1,313.7 L526.4,312.2 L526.7,309.7 L526.9,308.6 L527.2,306.8 L527.4,306.1 L528.6,304.0 L529.0,305.9 L529.5,307.6 L529.9,309.5 L530.3,307.4 L530.7,305.5 L531.1,303.9 L531.4,305.0 L531.6,306.1 L531.9,308.6 L532.2,310.3 L532.5,312.8 L532.7,313.8 L532.9,316.0 L533.0,317.2 L533.2,319.5 L533.4,320.7 L533.6,322.9 L533.8,324.3 L534.0,326.6 L534.3,327.8 L534.5,329.9 L534.7,331.4 L534.9,333.3 L535.2,334.3 L535.5,336.9 L535.9,338.1 L536.3,340.0 L536.7,341.1 L537.3,343.5 L537.8,344.7 L538.4,346.8 L540.1,348.6 L540.9,351.4 L541.8,353.0 L542.6,355.2 L543.5,356.3 L545.2,357.7 L546.9,354.7 L547.7,353.7 L548.6,351.1 L549.1,350.2 L549.7,347.7 L550.2,346.8 L550.9,344.8 L551.4,343.3 L551.8,341.4 L552.1,340.6 L552.4,338.1 L552.8,336.4 L553.0,334.7 L553.1,333.9 L553.3,331.7 L553.5,330.5 L553.6,328.1 L553.8,326.8 L554.0,324.6 L554.1,323.1 L554.3,320.9 L554.4,319.7 L554.5,317.5 L554.6,316.3 L554.7,314.2 L554.8,312.7 L554.9,310.6 L555.0,309.2 L555.1,306.9 L555.2,305.9 L555.3,303.7 L555.5,302.1 L555.6,299.6 L555.7,297.6 L555.8,295.1 L556.0,293.6 L556.1,291.6 L556.2,291.2 L556.3,290.3 L556.5,291.3 L556.6,291.5 L556.7,293.7 L556.8,295.0 L557.0,297.4 L557.1,299.1 L557.2,302.0 L557.4,303.9 L557.4,305.8 L557.5,307.0 L557.6,309.1 L557.7,310.2 L557.8,312.4 L557.9,313.7 L558.0,316.2 L558.1,317.6 L558.2,319.8 L558.3,320.9 L558.4,323.2 L558.4,324.5 L558.5,326.3 L558.7,328.1 L558.8,330.3 L559.0,331.8 L559.1,334.1 L559.3,335.3 L559.4,337.1 L559.6,338.3 L559.7,340.1 L559.9,341.2 L560.2,343.7 L560.6,345.3 L560.9,347.3 L561.3,348.1 L561.6,350.0 L562.2,351.5 L562.7,353.5 L563.3,354.5 L563.9,357.0 L564.4,358.5 L565.0,360.3 L566.7,361.5 L567.2,360.3 L567.6,358.0 L568.0,357.0 L569.4,358.0 L571.1,359.3 L572.1,357.9 L573.1,356.9 L574.1,355.0 L575.1,353.5 L575.7,351.6 L576.3,350.8 L576.8,348.0 L577.0,347.1 L577.3,345.2 L577.5,344.1 L577.7,341.9 L577.8,340.5 L578.0,337.9 L578.2,336.5 L578.3,334.5 L578.4,333.5 L578.5,331.3 L578.6,329.9 L578.7,327.5 L578.8,326.1 L578.9,323.9 L579.0,322.7 L579.1,320.5 L579.2,319.7 L579.4,316.9 L579.5,315.1 L579.6,312.2 L579.8,311.1 L579.9,309.5 L580.1,309.4 L580.2,309.4 L580.3,311.0 L580.5,312.3 L580.6,315.0 L580.7,316.7 L580.9,319.5 L581.0,320.6 L581.1,322.9 L581.2,324.0 L581.3,326.4 L581.4,327.9 L581.5,330.0 L581.7,331.4 L581.8,333.5 L581.9,334.2 L582.2,337.2 L582.4,338.2 L582.7,340.4 L583.0,341.6 L583.3,343.2 L583.8,344.9 L584.4,346.7 L585.0,347.9 L585.6,350.0 L586.3,351.4 L587.0,353.4 L588.1,354.9 L589.2,357.0 L590.3,357.9 L591.4,359.5 L593.4,359.7 L595.5,358.6 L596.6,356.6 L597.7,355.2 L598.8,353.0 L599.9,351.7 L600.6,350.0 L601.3,349.0 L601.9,346.2 L602.1,345.5 L602.3,343.5 L602.5,342.4 L602.7,340.2 L602.9,339.0 L603.1,336.5 L603.3,334.9 L603.4,332.9 L603.5,331.9 L603.6,329.9 L603.8,328.6 L603.9,326.3 L604.0,325.2 L604.1,323.0 L604.3,321.6 L604.4,319.3 L604.5,318.0 L604.6,315.8 L604.7,314.6 L604.8,312.4 L604.9,311.3 L605.0,308.9 L605.1,307.9 L605.1,305.8 L605.2,304.4 L605.3,302.2 L605.4,300.9 L605.5,298.7 L605.5,297.6 L605.6,295.3 L605.7,294.0 L605.8,291.7 L605.9,290.0 L606.0,287.2 L606.1,285.5 L606.1,282.9 L606.2,281.5 L606.3,279.1 L606.4,278.1 L606.5,276.4 L606.6,276.1 L606.6,275.0 L606.7,275.7 L606.8,276.2 L606.9,278.2 L607.0,279.5 L607.1,282.1 L607.2,283.7 L607.2,286.8 L607.3,288.4 L607.4,290.9 L607.5,292.0 L607.6,294.6 L607.7,296.2 L607.8,298.4 L608.0,299.8 L608.1,302.0 L608.2,302.8 L608.3,304.2 L609.2,305.7 L609.3,307.3 L609.4,308.1 L609.5,310.4 L609.6,311.9 L609.8,314.3 L609.9,315.5 L610.0,317.8 L610.2,319.1 L610.3,321.3 L610.5,322.7 L610.7,324.9 L610.9,326.1 L611.0,328.0 L611.2,329.1 L611.4,331.4 L611.6,332.7 L611.8,335.0 L612.0,336.2 L612.2,338.2 L612.4,339.5 L612.6,341.7 L612.8,342.9 L613.0,345.5 L613.3,346.7 L613.5,348.8 L613.8,349.6 L614.6,352.5 L615.4,353.1 L617.5,352.5 L618.6,353.2 L619.7,355.1 L621.9,356.2 L623.9,358.6 L624.5,360.1 L625.1,362.7 L625.6,363.1 L625.9,362.7 L626.3,360.7 L626.6,359.2 L627.0,356.5 L627.3,355.1 L627.6,352.9 L628.0,351.8 L628.3,349.6 L628.6,348.2 L629.0,346.1 L629.5,344.8 L630.0,342.6 L630.5,341.4 L631.0,339.6 L631.5,338.1 L631.9,335.8 L632.3,334.6 L632.7,332.7 L633.4,330.5 L634.1,329.1 L634.4,330.8 L634.7,331.7 L635.1,334.1 L635.4,335.7 L635.8,338.1 L636.1,339.6 L636.4,342.0 L636.7,343.4 L637.0,345.6 L637.3,346.7 L637.5,348.3" fill="none" stroke="#2f6fdc" stroke-width="1.15" stroke-linejoin="round" stroke-linecap="round" />
</g>
<rect x="413.6" y="237.4" width="224.39999999999998" height="157.9" fill="none" stroke="#444" stroke-width="1.0"/>
<line x1="413.6" y1="381.4" x2="416.6" y2="381.4" stroke="#333" stroke-width="0.9"/>
<text x="410.2" y="384.3" font-size="8.2" text-anchor="end" font-family="Liberation Serif, serif" fill="#000" font-weight="bold" >0</text>
<line x1="413.6" y1="352.6" x2="416.6" y2="352.6" stroke="#333" stroke-width="0.9"/>
<text x="410.2" y="355.5" font-size="8.2" text-anchor="end" font-family="Liberation Serif, serif" fill="#000" font-weight="bold" >10</text>
<line x1="413.6" y1="323.8" x2="416.6" y2="323.8" stroke="#333" stroke-width="0.9"/>
<text x="410.2" y="326.7" font-size="8.2" text-anchor="end" font-family="Liberation Serif, serif" fill="#000" font-weight="bold" >20</text>
<line x1="413.6" y1="295.0" x2="416.6" y2="295.0" stroke="#333" stroke-width="0.9"/>
<text x="410.2" y="297.9" font-size="8.2" text-anchor="end" font-family="Liberation Serif, serif" fill="#000" font-weight="bold" >30</text>
<line x1="413.6" y1="266.2" x2="416.6" y2="266.2" stroke="#333" stroke-width="0.9"/>
<text x="410.2" y="269.1" font-size="8.2" text-anchor="end" font-family="Liberation Serif, serif" fill="#000" font-weight="bold" >40</text>
<line x1="413.6" y1="237.4" x2="416.6" y2="237.4" stroke="#333" stroke-width="0.9"/>
<text x="410.2" y="240.3" font-size="8.2" text-anchor="end" font-family="Liberation Serif, serif" fill="#000" font-weight="bold" >50</text>
<line x1="413.6" y1="395.3" x2="413.6" y2="392.3" stroke="#333" stroke-width="0.9"/>
<text x="413.6" y="405.4" font-size="7.6" text-anchor="middle" font-family="Liberation Serif, serif" fill="#000" font-weight="bold" >8</text>
<line x1="469.7" y1="395.3" x2="469.7" y2="392.3" stroke="#333" stroke-width="0.9"/>
<text x="469.7" y="405.4" font-size="7.6" text-anchor="middle" font-family="Liberation Serif, serif" fill="#000" font-weight="bold" >9</text>
<line x1="525.8" y1="395.3" x2="525.8" y2="392.3" stroke="#333" stroke-width="0.9"/>
<text x="525.8" y="405.4" font-size="7.6" text-anchor="middle" font-family="Liberation Serif, serif" fill="#000" font-weight="bold" >10</text>
<line x1="581.9" y1="395.3" x2="581.9" y2="392.3" stroke="#333" stroke-width="0.9"/>
<text x="581.9" y="405.4" font-size="7.6" text-anchor="middle" font-family="Liberation Serif, serif" fill="#000" font-weight="bold" >11</text>
<line x1="638.0" y1="395.3" x2="638.0" y2="392.3" stroke="#333" stroke-width="0.9"/>
<text x="638.0" y="405.4" font-size="7.6" text-anchor="middle" font-family="Liberation Serif, serif" fill="#000" font-weight="bold" >12</text>
<text x="525.6" y="419.4" font-size="9.2" text-anchor="middle" font-family="Liberation Serif, serif" fill="#000" stroke="#000" stroke-width="0.4" textLength="60.8" lengthAdjust="spacingAndGlyphs" >Frequency [GHz]</text>
<text transform="translate(389.8,310.2) rotate(-90)" x="0" y="3.1" font-size="9.0" text-anchor="middle" font-family="Liberation Serif, serif" fill="#000" stroke="#000" stroke-width="0.35" textLength="65.1" lengthAdjust="spacingAndGlyphs">EMI Shielding [dB]</text>
<line x1="420" y1="244.7" x2="438.5" y2="244.7" stroke="#4a4a4a" stroke-width="1.1"/>
<text x="440.5" y="247.6" font-size="8.2" text-anchor="start" font-family="Liberation Serif, serif" fill="#000" font-weight="bold" >P1</text>
<line x1="453.8" y1="244.7" x2="471.6" y2="244.7" stroke="#ee3b3b" stroke-width="1.1"/>
<text x="473.8" y="247.6" font-size="8.2" text-anchor="start" font-family="Liberation Serif, serif" fill="#000" font-weight="bold" >P2</text>
<line x1="420" y1="254.9" x2="438.5" y2="254.9" stroke="#2f6fdc" stroke-width="1.1"/>
<text x="440.5" y="257.8" font-size="8.2" text-anchor="start" font-family="Liberation Serif, serif" fill="#000" font-weight="bold" >P3</text>
<line x1="453.8" y1="254.9" x2="471.6" y2="254.9" stroke="#2e9e55" stroke-width="1.1"/>
<text x="473.8" y="257.8" font-size="8.2" text-anchor="start" font-family="Liberation Serif, serif" fill="#000" font-weight="bold" >P4</text>
<text x="554.6" y="454.6" font-size="19" text-anchor="middle" font-family="Liberation Serif, serif" fill="#000" stroke="#000" stroke-width="0.2" >(d)</text>
<line x1="240.05" y1="469.8" x2="513.5" y2="469.8" stroke="#444" stroke-width="1.0"/>
<line x1="239.75" y1="668.9" x2="513.8" y2="668.9" stroke="#888" stroke-width="1.6"/>
<line x1="240.55" y1="469.8" x2="240.55" y2="668.9" stroke="#444" stroke-width="1.0"/>
<line x1="513.0" y1="469.8" x2="513.0" y2="668.9" stroke="#777" stroke-width="1.3"/>
<line x1="240.55" y1="657.2" x2="244.05" y2="657.2" stroke="#333" stroke-width="0.9"/>
<text x="236.8" y="660.9" font-size="10.5" text-anchor="end" font-family="Liberation Serif, serif" fill="#000" stroke="#000" stroke-width="0.2" >5</text>
<line x1="240.55" y1="633.8" x2="244.05" y2="633.8" stroke="#333" stroke-width="0.9"/>
<text x="236.8" y="637.4" font-size="10.5" text-anchor="end" font-family="Liberation Serif, serif" fill="#000" stroke="#000" stroke-width="0.2" >10</text>
<line x1="240.55" y1="610.3" x2="244.05" y2="610.3" stroke="#333" stroke-width="0.9"/>
<text x="236.8" y="614.0" font-size="10.5" text-anchor="end" font-family="Liberation Serif, serif" fill="#000" stroke="#000" stroke-width="0.2" >15</text>
<line x1="240.55" y1="586.9" x2="244.05" y2="586.9" stroke="#333" stroke-width="0.9"/>
<text x="236.8" y="590.6" font-size="10.5" text-anchor="end" font-family="Liberation Serif, serif" fill="#000" stroke="#000" stroke-width="0.2" >20</text>
<line x1="240.55" y1="563.5" x2="244.05" y2="563.5" stroke="#333" stroke-width="0.9"/>
<text x="236.8" y="567.2" font-size="10.5" text-anchor="end" font-family="Liberation Serif, serif" fill="#000" stroke="#000" stroke-width="0.2" >25</text>
<line x1="240.55" y1="540.1" x2="244.05" y2="540.1" stroke="#333" stroke-width="0.9"/>
<text x="236.8" y="543.7" font-size="10.5" text-anchor="end" font-family="Liberation Serif, serif" fill="#000" stroke="#000" stroke-width="0.2" >30</text>
<line x1="240.55" y1="516.6" x2="244.05" y2="516.6" stroke="#333" stroke-width="0.9"/>
<text x="236.8" y="520.3" font-size="10.5" text-anchor="end" font-family="Liberation Serif, serif" fill="#000" stroke="#000" stroke-width="0.2" >35</text>
<line x1="240.55" y1="493.2" x2="244.05" y2="493.2" stroke="#333" stroke-width="0.9"/>
<text x="236.8" y="496.9" font-size="10.5" text-anchor="end" font-family="Liberation Serif, serif" fill="#000" stroke="#000" stroke-width="0.2" >40</text>
<line x1="240.55" y1="469.8" x2="244.05" y2="469.8" stroke="#333" stroke-width="0.9"/>
<text x="236.8" y="473.4" font-size="10.5" text-anchor="end" font-family="Liberation Serif, serif" fill="#000" stroke="#000" stroke-width="0.2" >45</text>
<line x1="240.6" y1="668.9" x2="240.6" y2="665.4" stroke="#333" stroke-width="0.9"/>
<text x="240.6" y="681.4" font-size="10.5" text-anchor="middle" font-family="Liberation Serif, serif" fill="#000" stroke="#000" stroke-width="0.2" >0.0</text>
<line x1="280.6" y1="668.9" x2="280.6" y2="665.4" stroke="#333" stroke-width="0.9"/>
<text x="280.6" y="681.4" font-size="10.5" text-anchor="middle" font-family="Liberation Serif, serif" fill="#000" stroke="#000" stroke-width="0.2" >2.5</text>
<line x1="320.7" y1="668.9" x2="320.7" y2="665.4" stroke="#333" stroke-width="0.9"/>
<text x="320.7" y="681.4" font-size="10.5" text-anchor="middle" font-family="Liberation Serif, serif" fill="#000" stroke="#000" stroke-width="0.2" >5.0</text>
<line x1="360.8" y1="668.9" x2="360.8" y2="665.4" stroke="#333" stroke-width="0.9"/>
<text x="360.8" y="681.4" font-size="10.5" text-anchor="middle" font-family="Liberation Serif, serif" fill="#000" stroke="#000" stroke-width="0.2" >7.5</text>
<line x1="400.9" y1="668.9" x2="400.9" y2="665.4" stroke="#333" stroke-width="0.9"/>
<text x="400.9" y="681.4" font-size="10.5" text-anchor="middle" font-family="Liberation Serif, serif" fill="#000" stroke="#000" stroke-width="0.2" >10.0</text>
<line x1="440.9" y1="668.9" x2="440.9" y2="665.4" stroke="#333" stroke-width="0.9"/>
<text x="440.9" y="681.4" font-size="10.5" text-anchor="middle" font-family="Liberation Serif, serif" fill="#000" stroke="#000" stroke-width="0.2" >12.5</text>
<line x1="481.0" y1="668.9" x2="481.0" y2="665.4" stroke="#333" stroke-width="0.9"/>
<text x="481.0" y="681.4" font-size="10.5" text-anchor="middle" font-family="Liberation Serif, serif" fill="#000" stroke="#000" stroke-width="0.2" >15.0</text>
<path d="M272.6,657.2 L320.7,643.1 L368.8,633.8 L481.0,627.7" fill="none" stroke="#1a1aee" stroke-width="1.5" stroke-linejoin="round" stroke-linecap="round" />
<path d="M272.6,576.6 L320.7,553.2 L368.8,508.7 L481.0,480.1" fill="none" stroke="#dd44ee" stroke-width="1.5" stroke-linejoin="round" stroke-linecap="round" />
<rect x="270.0" y="654.6" width="5.2" height="5.2" fill="#1a1aee"/>
<rect x="318.1" y="640.5" width="5.2" height="5.2" fill="#1a1aee"/>
<rect x="366.2" y="631.2" width="5.2" height="5.2" fill="#1a1aee"/>
<rect x="478.4" y="625.1" width="5.2" height="5.2" fill="#1a1aee"/>
<circle cx="272.6" cy="576.6" r="2.8" fill="#dd44ee"/>
<circle cx="320.7" cy="553.2" r="2.8" fill="#dd44ee"/>
<circle cx="368.8" cy="508.7" r="2.8" fill="#dd44ee"/>
<circle cx="481.0" cy="480.1" r="2.8" fill="#dd44ee"/>
<line x1="389.2" y1="565.5" x2="412.3" y2="565.5" stroke="#1a1aee" stroke-width="1.5"/>
<rect x="398.2" y="563.0" width="5" height="5" fill="#1a1aee"/>
<line x1="389.2" y1="577.6" x2="412.3" y2="577.6" stroke="#dd44ee" stroke-width="1.5"/>
<circle cx="400.7" cy="577.6" r="2.6" fill="#dd44ee"/>
<text x="414.7" y="569.2" font-size="10.5" text-anchor="start" font-family="Liberation Serif, serif" fill="#000" stroke="#000" stroke-width="0.2" textLength="72" lengthAdjust="spacingAndGlyphs" >Min EMI SE [dB]</text>
<text x="414.7" y="581.3" font-size="10.5" text-anchor="start" font-family="Liberation Serif, serif" fill="#000" stroke="#000" stroke-width="0.2" textLength="73.6" lengthAdjust="spacingAndGlyphs" >Max EMI SE [dB]</text>
<text x="376.8" y="702.1" font-size="11" text-anchor="middle" font-family="Liberation Serif, serif" fill="#000" stroke="#000" stroke-width="0.2" textLength="138.2" lengthAdjust="spacingAndGlyphs" >Filler weight percentage [wt.%]</text>
<text transform="translate(209.2,569.3) rotate(-90)" x="0" y="3.8" font-size="11" text-anchor="middle" font-family="Liberation Serif, serif" fill="#000" stroke="#000" stroke-width="0.2" textLength="57.4" lengthAdjust="spacingAndGlyphs">EMI SE [dB]</text>
<text x="361.5" y="723.6" font-size="19" text-anchor="middle" font-family="Liberation Serif, serif" fill="#000" stroke="#000" stroke-width="0.2" >(e)</text>
<clipPath id="cf"><rect x="82.1" y="739.4" width="217.79999999999998" height="168.0"/></clipPath>
<g clip-path="url(#cf)">
<line x1="82.1" y1="831.3" x2="299.9" y2="831.3" stroke="#8a44e0" stroke-width="1.3"/>
<path d="M82.9,825.7 L83.7,815.0 L84.5,816.7 L85.6,823.2 L86.9,819.1 L88.2,824.8 L89.9,828.9 L91.5,829.7 L93.2,827.3 L94.8,824.0 L96.4,822.4 L98.4,823.2 L100.0,824.0 L101.7,823.2 L103.3,822.4 L104.9,824.8 L106.6,825.7 L108.2,825.7 L109.8,825.7 L111.5,826.5 L113.1,828.1 L114.7,829.4 L116.4,828.1 L118.0,828.9 L119.3,820.7 L120.1,818.3 L120.9,823.2 L122.1,818.3 L123.2,817.5 L124.5,823.2 L125.9,827.3 L127.5,828.9 L129.5,829.4 L131.9,830.1 L134.4,831.4 L136.8,832.7 L139.3,834.3 L141.2,837.1 L142.9,841.2 L144.2,846.1 L145.5,854.3 L146.5,862.4 L146.9,873.9 L147.4,867.3 L148.1,855.9 L149.1,846.1 L150.4,839.6 L152.0,834.6 L154.0,832.2 L156.4,831.0 L158.9,829.7 L161.3,828.4 L163.5,826.8 L165.4,826.1 L167.4,826.5 L169.5,825.7 L172.0,827.3 L174.4,828.9 L176.9,830.6 L179.3,832.2 L181.4,834.6 L183.4,837.9 L185.0,842.0 L185.9,823.2 L186.7,815.0 L187.7,828.1 L189.1,823.2 L190.8,819.1 L192.0,824.5 L193.7,826.1 L196.1,827.7 L198.6,828.5 L201.0,829.4 L203.5,830.2 L205.9,831.0 L208.4,832.3 L210.8,833.0 L213.3,833.9 L214.9,835.9 L216.2,836.7 L217.4,834.3 L218.2,817.9 L218.8,817.1 L219.5,827.7 L220.2,839.2 L221.1,837.5 L222.3,835.1 L223.9,833.4 L226.4,832.3 L229.6,832.3 L232.9,832.3 L236.2,832.3 L239.5,831.8 L240.8,826.9 L241.9,824.5 L243.5,823.6 L245.7,825.3 L248.0,826.9 L250.6,828.5 L253.3,827.7 L255.8,825.3 L257.8,822.8 L259.4,819.6 L260.4,811.4 L261.0,805.7 L261.7,819.6 L262.0,839.2 L262.7,862.1 L263.3,874.3 L264.0,858.8 L264.8,839.2 L265.9,835.1 L268.1,833.4 L271.3,832.6 L274.6,832.3 L277.9,832.3 L281.1,832.6 L284.4,833.4 L286.9,835.1 L288.5,839.2 L289.8,845.7 L290.5,816.3 L291.0,790.9 L291.4,838.7 L292.0,801.1 L292.7,812.5 L293.3,840.3 L294.2,842.4 L295.9,838.4 L297.5,835.1 L299.1,832.6" fill="none" stroke="#1f7fa0" stroke-width="1.3" stroke-linejoin="round" stroke-linecap="round" />
<path d="M82.5,825.2 L83.3,814.5 L84.1,816.2 L85.2,822.7 L86.5,818.6 L87.8,824.3 L89.5,828.4 L91.1,829.2 L92.8,826.8 L94.4,823.5 L96.0,821.9 L98.0,822.7 L99.6,823.5 L101.3,822.7 L102.9,821.9 L104.5,824.3 L106.2,825.2 L107.8,825.2 L109.4,825.2 L111.1,826.0 L112.7,827.6 L114.3,828.9 L116.0,827.6 L117.6,828.4 L118.9,820.2 L119.7,817.8 L120.5,822.7 L121.7,817.8 L122.8,817.0 L124.1,822.7 L125.5,826.8 L127.1,828.4 L129.1,828.9 L131.5,829.6 L134.0,830.9 L136.4,832.2 L138.9,833.8 L140.8,836.6 L142.5,840.7 L143.8,845.6 L145.1,853.8 L146.1,861.9 L146.5,873.4 L147.0,866.8 L147.7,855.4 L148.7,845.6 L150.0,839.1 L151.6,834.1 L153.6,831.7 L156.0,830.5 L158.5,829.2 L160.9,827.9 L163.1,826.3 L165.0,825.6 L167.0,826.0 L169.1,825.2 L171.6,826.8 L174.0,828.4 L176.5,830.1 L178.9,831.7 L181.0,834.1 L183.0,837.4 L184.6,841.5 L185.5,822.7 L186.3,814.5 L187.3,827.6 L188.7,822.7 L190.4,818.6 L191.6,824.0 L193.3,825.6 L195.7,827.2 L198.2,828.0 L200.6,828.9 L203.1,829.7 L205.5,830.5 L208.0,831.8 L210.4,832.5 L212.9,833.4 L214.5,835.4 L215.8,836.2 L217.0,833.8 L217.8,817.4 L218.4,816.6 L219.1,827.2 L219.8,838.7 L220.7,837.0 L221.9,834.6 L223.5,832.9 L226.0,831.8 L229.2,831.8 L232.5,831.8 L235.8,831.8 L239.1,831.3 L240.4,826.4 L241.5,824.0 L243.1,823.1 L245.3,824.8 L247.6,826.4 L250.2,828.0 L252.9,827.2 L255.4,824.8 L257.4,822.3 L259.0,819.1 L260.0,810.9 L260.6,805.2 L261.3,819.1 L261.6,838.7 L262.3,861.6 L262.9,873.8 L263.6,858.3 L264.4,838.7 L265.5,834.6 L267.7,832.9 L270.9,832.1 L274.2,831.8 L277.5,831.8 L280.7,832.1 L284.0,832.9 L286.5,834.6 L288.1,838.7 L289.4,845.2 L290.1,815.8 L290.6,790.4 L291.0,827.2 L291.7,859.9 L292.7,846.8 L293.8,841.9 L295.5,837.9 L297.1,834.6 L298.7,832.1" fill="none" stroke="#2c9a3c" stroke-width="1.4" stroke-linejoin="round" stroke-linecap="round" />
<path d="M82.5,829.2 L83.6,822.7 L84.9,819.4 L86.2,813.7 L87.4,818.6 L88.5,826.0 L90.1,829.2 L91.8,828.4 L93.4,826.0 L95.0,823.5 L96.7,824.3 L98.3,823.5 L99.9,823.5 L102.1,821.9 L103.7,824.3 L105.3,824.3 L107.5,824.7 L109.4,824.7 L111.4,824.3 L113.0,822.7 L114.7,825.2 L116.3,826.8 L117.9,828.4 L119.2,822.7 L120.1,819.4 L120.9,830.1 L121.7,817.0 L122.8,815.3 L124.1,818.6 L125.1,826.8 L126.6,828.4 L129.1,829.2 L131.5,829.2 L134.0,830.1 L136.4,831.2 L138.9,832.8 L141.3,835.8 L142.9,839.9 L144.3,845.6 L145.4,852.1 L146.5,858.7 L147.5,861.9 L148.3,853.8 L149.5,844.0 L151.1,837.4 L153.2,833.3 L155.5,831.7 L158.2,829.2 L160.4,827.6 L162.7,826.8 L165.0,826.0 L167.5,825.2 L169.9,825.2 L172.4,826.8 L174.8,828.4 L177.3,830.1 L179.7,831.7 L182.2,833.3 L183.8,835.8 L185.0,835.8 L186.0,817.8 L187.1,816.2 L188.7,819.4 L190.4,817.8 L191.3,818.2 L192.5,816.6 L193.6,819.1 L194.9,819.9 L196.2,824.0 L198.2,827.2 L200.6,828.0 L203.1,829.2 L205.5,830.2 L208.0,831.3 L210.4,832.1 L212.9,833.8 L214.5,837.0 L216.2,839.5 L217.5,841.1 L218.3,826.4 L219.1,824.0 L219.8,841.1 L221.1,838.7 L222.7,834.6 L225.2,832.9 L228.4,832.1 L232.5,831.8 L236.6,831.3 L239.9,831.3 L241.0,826.4 L242.3,824.8 L244.0,824.0 L246.4,825.6 L248.9,827.2 L251.3,828.0 L253.8,827.2 L256.2,825.6 L258.3,822.3 L260.0,819.1 L261.6,814.1 L262.8,807.6 L263.6,803.5 L264.4,810.9 L264.9,830.5 L265.5,831.8 L268.5,831.8 L271.8,831.5 L275.0,831.5 L278.3,831.6 L281.6,832.1 L284.8,832.9 L287.3,834.6 L288.9,837.0 L290.1,838.7 L291.0,843.6 L291.7,827.2 L292.4,807.6 L293.0,835.4 L293.8,841.9 L295.5,838.7 L297.1,835.4 L298.7,832.1" fill="none" stroke="#b8661c" stroke-width="1.4" stroke-linejoin="round" stroke-linecap="round" />
</g>
<line x1="81.6" y1="739.4" x2="300.4" y2="739.4" stroke="#333" stroke-width="1.0"/>
<line x1="81.6" y1="907.4" x2="300.4" y2="907.4" stroke="#333" stroke-width="1.0"/>
<line x1="82.1" y1="739.4" x2="82.1" y2="907.4" stroke="#aaa" stroke-width="1.3"/>
<line x1="299.9" y1="739.4" x2="299.9" y2="907.4" stroke="#aaa" stroke-width="1.3"/>
<line x1="82.1" y1="892.5" x2="85.1" y2="892.5" stroke="#333" stroke-width="0.9"/>
<text x="78.7" y="895.5" font-size="8.4" text-anchor="end" font-family="Liberation Serif, serif" fill="#000" stroke="#000" stroke-width="0.2" >-400</text>
<line x1="82.1" y1="861.9" x2="85.1" y2="861.9" stroke="#333" stroke-width="0.9"/>
<text x="78.7" y="864.9" font-size="8.4" text-anchor="end" font-family="Liberation Serif, serif" fill="#000" stroke="#000" stroke-width="0.2" >-200</text>
<line x1="82.1" y1="831.3" x2="85.1" y2="831.3" stroke="#333" stroke-width="0.9"/>
<text x="78.7" y="834.2" font-size="8.4" text-anchor="end" font-family="Liberation Serif, serif" fill="#000" stroke="#000" stroke-width="0.2" >0</text>
<line x1="82.1" y1="800.7" x2="85.1" y2="800.7" stroke="#333" stroke-width="0.9"/>
<text x="78.7" y="803.6" font-size="8.4" text-anchor="end" font-family="Liberation Serif, serif" fill="#000" stroke="#000" stroke-width="0.2" >200</text>
<line x1="82.1" y1="770.1" x2="85.1" y2="770.1" stroke="#333" stroke-width="0.9"/>
<text x="78.7" y="773.0" font-size="8.4" text-anchor="end" font-family="Liberation Serif, serif" fill="#000" stroke="#000" stroke-width="0.2" >400</text>
<line x1="82.1" y1="739.4" x2="85.1" y2="739.4" stroke="#333" stroke-width="0.9"/>
<text x="78.7" y="742.4" font-size="8.4" text-anchor="end" font-family="Liberation Serif, serif" fill="#000" stroke="#000" stroke-width="0.2" >600</text>
<line x1="82.1" y1="907.4" x2="82.1" y2="904.4" stroke="#333" stroke-width="0.9"/>
<text x="82.1" y="917.4" font-size="8.4" text-anchor="middle" font-family="Liberation Serif, serif" fill="#000" stroke="#000" stroke-width="0.2" >8</text>
<line x1="136.6" y1="907.4" x2="136.6" y2="904.4" stroke="#333" stroke-width="0.9"/>
<text x="136.6" y="917.4" font-size="8.4" text-anchor="middle" font-family="Liberation Serif, serif" fill="#000" stroke="#000" stroke-width="0.2" >9</text>
<line x1="191.0" y1="907.4" x2="191.0" y2="904.4" stroke="#333" stroke-width="0.9"/>
<text x="191.0" y="917.4" font-size="8.4" text-anchor="middle" font-family="Liberation Serif, serif" fill="#000" stroke="#000" stroke-width="0.2" >10</text>
<line x1="245.5" y1="907.4" x2="245.5" y2="904.4" stroke="#333" stroke-width="0.9"/>
<text x="245.5" y="917.4" font-size="8.4" text-anchor="middle" font-family="Liberation Serif, serif" fill="#000" stroke="#000" stroke-width="0.2" >11</text>
<line x1="299.9" y1="907.4" x2="299.9" y2="904.4" stroke="#333" stroke-width="0.9"/>
<text x="299.9" y="917.4" font-size="8.4" text-anchor="middle" font-family="Liberation Serif, serif" fill="#000" stroke="#000" stroke-width="0.2" >12</text>
<text x="190.7" y="933.1" font-size="9.6" text-anchor="middle" font-family="Liberation Serif, serif" fill="#000" stroke="#000" stroke-width="0.2" textLength="63.6" lengthAdjust="spacingAndGlyphs" >Frequency [GHz]</text>
<text transform="translate(51.0,815.9) rotate(-90)" x="0" y="3.1" font-size="9.0" text-anchor="middle" font-family="Liberation Serif, serif" fill="#000" stroke="#000" stroke-width="0.2" textLength="97.7" lengthAdjust="spacingAndGlyphs">Real part of permittivity [<tspan font-style='italic'>ε</tspan>']</text>
<line x1="99.1" y1="750.0" x2="117.9" y2="750.0" stroke="#8a44e0" stroke-width="1.3"/>
<text x="119.9" y="752.9" font-size="8.2" text-anchor="start" font-family="Liberation Serif, serif" fill="#000" stroke="#000" stroke-width="0.2" >P1</text>
<line x1="135.2" y1="750.0" x2="154" y2="750.0" stroke="#1f7fa0" stroke-width="1.3"/>
<text x="155.7" y="752.9" font-size="8.2" text-anchor="start" font-family="Liberation Serif, serif" fill="#000" stroke="#000" stroke-width="0.2" >P2</text>
<line x1="99.1" y1="760.7" x2="117.9" y2="760.7" stroke="#2c9a3c" stroke-width="1.3"/>
<text x="119.9" y="763.6" font-size="8.2" text-anchor="start" font-family="Liberation Serif, serif" fill="#000" stroke="#000" stroke-width="0.2" >P3</text>
<line x1="135.2" y1="760.7" x2="154" y2="760.7" stroke="#b8661c" stroke-width="1.3"/>
<text x="155.7" y="763.6" font-size="8.2" text-anchor="start" font-family="Liberation Serif, serif" fill="#000" stroke="#000" stroke-width="0.2" >P4</text>
<text x="173.3" y="954.0" font-size="19" text-anchor="middle" font-family="Liberation Serif, serif" fill="#000" stroke="#000" stroke-width="0.2" >(f)</text>
<clipPath id="cg"><rect x="461.5" y="737.4" width="217.70000000000005" height="169.0"/></clipPath>
<g clip-path="url(#cg)">
<path d="M462.5,819.3 L463.0,824.2 L463.4,837.3 L464.1,839.8 L466.2,840.6 L469.5,840.9 L472.8,841.4 L476.0,841.9 L479.3,843.0 L481.8,845.5 L484.2,843.0 L486.7,840.9 L489.1,838.9 L491.6,837.6 L494.0,837.6 L496.1,838.9 L497.8,834.9 L498.4,829.1 L499.1,840.6 L499.4,853.7 L500.1,854.5 L501.4,850.4 L503.8,847.1 L506.3,844.7 L509.6,841.9 L512.8,838.9 L516.1,836.5 L519.4,834.0 L521.8,830.8 L523.4,827.5 L524.6,835.7 L525.6,847.1 L526.2,848.8 L527.5,843.8 L530.0,842.2 L533.3,841.4 L536.5,840.6 L539.8,838.9 L542.3,837.0 L544.2,838.9 L546.3,840.6 L548.8,841.4 L552.1,840.6 L555.3,839.8 L558.6,839.8 L561.9,839.8 L564.3,838.9 L566.0,831.6 L566.8,847.1 L567.1,857.7 L568.4,852.0 L570.0,846.3 L572.6,844.1 L575.9,841.6 L579.1,840.3 L582.4,839.2 L585.7,838.0 L588.9,836.7 L591.4,835.9 L593.4,834.3 L595.0,835.1 L596.3,841.6 L597.1,844.1 L597.9,838.4 L598.7,824.5 L599.6,828.6 L600.4,840.0 L601.2,843.3 L603.7,841.6 L606.9,840.3 L610.2,839.2 L613.5,837.6 L616.7,835.1 L618.4,834.3 L620.0,837.6 L621.6,841.6 L624.1,842.5 L627.4,840.8 L630.6,840.0 L633.9,839.7 L637.2,838.4 L639.6,836.7 L640.8,832.6 L641.4,841.6 L641.7,867.8 L642.1,882.5 L642.9,867.8 L644.0,851.5 L645.3,846.5 L647.8,844.1 L651.1,842.5 L654.3,840.8 L657.6,839.2 L660.9,837.6 L664.1,835.1 L666.6,832.6 L668.6,831.0 L669.9,831.8 L671.2,840.0 L672.3,835.1 L673.5,838.4 L674.5,846.5 L675.6,841.6 L677.2,843.3 L679.4,843.3" fill="none" stroke="#2050c8" stroke-width="1.3" stroke-linejoin="round" stroke-linecap="round" />
<path d="M462.0,819.6 L462.5,824.5 L462.9,837.6 L463.6,840.1 L465.7,840.9 L469.0,841.2 L472.3,841.7 L475.5,842.2 L478.8,843.3 L481.3,845.8 L483.7,843.3 L486.2,841.2 L488.6,839.2 L491.1,837.9 L493.5,837.9 L495.6,839.2 L497.3,835.2 L497.9,829.4 L498.6,840.9 L498.9,854.0 L499.6,854.8 L500.9,850.7 L503.3,847.4 L505.8,845.0 L509.1,842.2 L512.3,839.2 L515.6,836.8 L518.9,834.3 L521.3,831.1 L522.9,827.8 L524.1,836.0 L525.1,847.4 L525.7,849.1 L527.0,844.1 L529.5,842.5 L532.8,841.7 L536.0,840.9 L539.3,839.2 L541.8,837.3 L543.7,839.2 L545.8,840.9 L548.3,841.7 L551.6,840.9 L554.8,840.1 L558.1,840.1 L561.4,840.1 L563.8,839.2 L565.5,831.9 L566.3,847.4 L566.6,858.0 L567.9,852.3 L569.5,846.6 L572.1,844.4 L575.4,841.9 L578.6,840.6 L581.9,839.5 L585.2,838.3 L588.4,837.0 L590.9,836.2 L592.9,834.6 L594.5,835.4 L595.8,841.9 L596.6,844.4 L597.4,838.7 L598.2,824.8 L599.1,828.9 L599.9,840.3 L600.7,843.6 L603.2,841.9 L606.4,840.6 L609.7,839.5 L613.0,837.9 L616.2,835.4 L617.9,834.6 L619.5,837.9 L621.1,841.9 L623.6,842.8 L626.9,841.1 L630.1,840.3 L633.4,840.0 L636.7,838.7 L639.1,837.0 L640.3,832.9 L640.9,841.9 L641.2,868.1 L641.6,882.8 L642.4,868.1 L643.5,851.8 L644.8,846.8 L647.3,844.4 L650.6,842.8 L653.8,841.1 L657.1,839.5 L660.4,837.9 L663.6,835.4 L666.1,832.9 L668.1,831.3 L669.4,832.1 L670.7,840.3 L671.8,835.4 L673.0,838.7 L674.0,846.8 L675.1,841.9 L676.7,843.6 L678.9,843.6" fill="none" stroke="#1b1f86" stroke-width="1.4" stroke-linejoin="round" stroke-linecap="round" />
<path d="M461.7,830.8 L462.6,833.3 L463.6,839.0 L465.4,841.5 L468.7,842.3 L472.0,842.8 L475.2,843.1 L478.5,843.9 L481.0,844.7 L483.4,842.8 L485.9,840.7 L488.3,838.5 L490.8,836.9 L493.2,834.9 L495.3,833.3 L496.7,830.8 L497.3,833.3 L497.8,849.7 L498.9,850.5 L501.4,851.3 L503.8,848.8 L506.3,846.4 L509.6,843.4 L512.8,840.7 L516.1,838.2 L519.4,836.2 L521.8,834.1 L523.5,832.5 L524.4,830.8 L525.1,838.2 L525.9,844.7 L527.6,843.9 L530.0,842.8 L533.3,841.8 L536.5,841.1 L539.8,840.7 L542.3,839.8 L544.4,840.7 L547.2,842.3 L550.4,841.5 L553.7,840.7 L557.0,839.8 L560.3,839.0 L562.7,837.4 L563.9,835.8 L564.3,844.7 L565.2,848.8 L566.8,848.0 L569.2,845.6 L571.8,844.2 L575.1,842.5 L578.3,841.4 L581.6,840.1 L584.9,838.5 L588.1,836.8 L590.6,836.0 L592.6,833.5 L593.9,832.7 L595.5,829.5 L596.5,819.7 L597.1,867.1 L597.9,852.4 L598.8,846.6 L600.4,845.0 L603.7,842.5 L606.9,841.2 L610.2,839.3 L613.5,837.3 L616.8,836.0 L619.2,838.5 L621.7,840.6 L624.1,840.1 L627.4,840.1 L630.6,840.1 L633.9,840.1 L637.2,839.6 L639.6,840.1 L640.9,849.1 L642.1,858.9 L643.2,850.7 L644.5,847.4 L647.0,845.8 L650.3,844.2 L653.5,842.5 L656.8,840.6 L660.1,838.5 L663.3,836.0 L665.8,832.7 L667.4,828.6 L668.6,818.0 L669.0,819.1 L669.5,805.2 L670.0,805.2 L670.4,864.8 L670.7,858.3 L671.5,854.0 L673.2,850.7 L674.8,847.4 L676.4,845.8 L678.6,844.2" fill="none" stroke="#c8e82a" stroke-width="1.3" stroke-linejoin="round" stroke-linecap="round" />
<path d="M462.0,830.2 L462.9,832.7 L463.9,838.4 L465.7,840.9 L469.0,841.7 L472.3,842.2 L475.5,842.5 L478.8,843.3 L481.3,844.1 L483.7,842.2 L486.2,840.1 L488.6,837.9 L491.1,836.3 L493.5,834.3 L495.6,832.7 L497.0,830.2 L497.6,832.7 L498.1,849.1 L499.2,849.9 L501.7,850.7 L504.1,848.2 L506.6,845.8 L509.9,842.8 L513.1,840.1 L516.4,837.6 L519.7,835.6 L522.1,833.5 L523.8,831.9 L524.7,830.2 L525.4,837.6 L526.2,844.1 L527.9,843.3 L530.3,842.2 L533.6,841.2 L536.8,840.5 L540.1,840.1 L542.6,839.2 L544.7,840.1 L547.5,841.7 L550.7,840.9 L554.0,840.1 L557.3,839.2 L560.6,838.4 L563.0,836.8 L564.2,835.2 L564.6,844.1 L565.5,848.2 L567.1,847.4 L569.5,845.0 L572.1,843.6 L575.4,841.9 L578.6,840.8 L581.9,839.5 L585.2,837.9 L588.4,836.2 L590.9,835.4 L592.9,832.9 L594.2,832.1 L595.8,828.9 L596.8,819.1 L597.4,866.5 L598.2,851.8 L599.1,846.0 L600.7,844.4 L604.0,841.9 L607.2,840.6 L610.5,838.7 L613.8,836.7 L617.1,835.4 L619.5,837.9 L622.0,840.0 L624.4,839.5 L627.7,839.5 L630.9,839.5 L634.2,839.5 L637.5,839.0 L639.9,839.5 L641.2,848.5 L642.4,858.3 L643.5,850.1 L644.8,846.8 L647.3,845.2 L650.6,843.6 L653.8,841.9 L657.1,840.0 L660.4,837.9 L663.6,835.4 L666.1,832.1 L667.7,828.0 L668.9,817.4 L669.7,838.7 L670.5,858.3 L671.8,853.4 L673.5,850.1 L675.1,846.8 L676.7,845.2 L678.9,843.6" fill="none" stroke="#f27a2a" stroke-width="1.4" stroke-linejoin="round" stroke-linecap="round" />
</g>
<line x1="461.0" y1="737.4" x2="679.7" y2="737.4" stroke="#333" stroke-width="1.0"/>
<line x1="461.0" y1="906.4" x2="679.7" y2="906.4" stroke="#333" stroke-width="1.0"/>
<line x1="461.5" y1="737.4" x2="461.5" y2="906.4" stroke="#333" stroke-width="1.0"/>
<line x1="679.2" y1="737.4" x2="679.2" y2="906.4" stroke="#aaa" stroke-width="1.3"/>
<line x1="461.5" y1="897.1" x2="464.5" y2="897.1" stroke="#333" stroke-width="0.9"/>
<text x="458.4" y="900.0" font-size="8.4" text-anchor="end" font-family="Liberation Serif, serif" fill="#000" stroke="#000" stroke-width="0.2" >-600</text>
<line x1="461.5" y1="878.4" x2="464.5" y2="878.4" stroke="#333" stroke-width="0.9"/>
<text x="458.4" y="881.3" font-size="8.4" text-anchor="end" font-family="Liberation Serif, serif" fill="#000" stroke="#000" stroke-width="0.2" >-400</text>
<line x1="461.5" y1="859.7" x2="464.5" y2="859.7" stroke="#333" stroke-width="0.9"/>
<text x="458.4" y="862.6" font-size="8.4" text-anchor="end" font-family="Liberation Serif, serif" fill="#000" stroke="#000" stroke-width="0.2" >-200</text>
<line x1="461.5" y1="841.0" x2="464.5" y2="841.0" stroke="#333" stroke-width="0.9"/>
<text x="458.4" y="843.9" font-size="8.4" text-anchor="end" font-family="Liberation Serif, serif" fill="#000" stroke="#000" stroke-width="0.2" >0</text>
<line x1="461.5" y1="822.3" x2="464.5" y2="822.3" stroke="#333" stroke-width="0.9"/>
<text x="458.4" y="825.2" font-size="8.4" text-anchor="end" font-family="Liberation Serif, serif" fill="#000" stroke="#000" stroke-width="0.2" >200</text>
<line x1="461.5" y1="803.6" x2="464.5" y2="803.6" stroke="#333" stroke-width="0.9"/>
<text x="458.4" y="806.5" font-size="8.4" text-anchor="end" font-family="Liberation Serif, serif" fill="#000" stroke="#000" stroke-width="0.2" >400</text>
<line x1="461.5" y1="784.9" x2="464.5" y2="784.9" stroke="#333" stroke-width="0.9"/>
<text x="458.4" y="787.8" font-size="8.4" text-anchor="end" font-family="Liberation Serif, serif" fill="#000" stroke="#000" stroke-width="0.2" >600</text>
<line x1="461.5" y1="766.2" x2="464.5" y2="766.2" stroke="#333" stroke-width="0.9"/>
<text x="458.4" y="769.1" font-size="8.4" text-anchor="end" font-family="Liberation Serif, serif" fill="#000" stroke="#000" stroke-width="0.2" >800</text>
<line x1="461.5" y1="747.5" x2="464.5" y2="747.5" stroke="#333" stroke-width="0.9"/>
<text x="458.4" y="750.4" font-size="8.4" text-anchor="end" font-family="Liberation Serif, serif" fill="#000" stroke="#000" stroke-width="0.2" >1000</text>
<line x1="461.5" y1="906.4" x2="461.5" y2="903.4" stroke="#333" stroke-width="0.9"/>
<text x="461.5" y="915.6" font-size="8.4" text-anchor="middle" font-family="Liberation Serif, serif" fill="#000" stroke="#000" stroke-width="0.2" >8</text>
<line x1="515.9" y1="906.4" x2="515.9" y2="903.4" stroke="#333" stroke-width="0.9"/>
<text x="515.9" y="915.6" font-size="8.4" text-anchor="middle" font-family="Liberation Serif, serif" fill="#000" stroke="#000" stroke-width="0.2" >9</text>
<line x1="570.3" y1="906.4" x2="570.3" y2="903.4" stroke="#333" stroke-width="0.9"/>
<text x="570.3" y="915.6" font-size="8.4" text-anchor="middle" font-family="Liberation Serif, serif" fill="#000" stroke="#000" stroke-width="0.2" >10</text>
<line x1="624.8" y1="906.4" x2="624.8" y2="903.4" stroke="#333" stroke-width="0.9"/>
<text x="624.8" y="915.6" font-size="8.4" text-anchor="middle" font-family="Liberation Serif, serif" fill="#000" stroke="#000" stroke-width="0.2" >11</text>
<line x1="679.2" y1="906.4" x2="679.2" y2="903.4" stroke="#333" stroke-width="0.9"/>
<text x="679.2" y="915.6" font-size="8.4" text-anchor="middle" font-family="Liberation Serif, serif" fill="#000" stroke="#000" stroke-width="0.2" >12</text>
<text x="570.1" y="931.5" font-size="9.6" text-anchor="middle" font-family="Liberation Serif, serif" fill="#000" stroke="#000" stroke-width="0.2" textLength="63.8" lengthAdjust="spacingAndGlyphs" >Frequency [GHz]</text>
<text transform="translate(429.1,815.9) rotate(-90)" x="0" y="3.3" font-size="9.3" text-anchor="middle" font-family="Liberation Serif, serif" fill="#000" stroke="#000" stroke-width="0.2" textLength="126.9" lengthAdjust="spacingAndGlyphs">Imaginary part of permittivity [<tspan font-style="italic">ε</tspan>″]</text>
<line x1="473.5" y1="747.8" x2="493.2" y2="747.8" stroke="#1b1f86" stroke-width="1.5"/>
<text x="494.6" y="750.7" font-size="8.2" text-anchor="start" font-family="Liberation Serif, serif" fill="#000" stroke="#000" stroke-width="0.2" >P1</text>
<line x1="507.9" y1="747.8" x2="526.9" y2="747.8" stroke="#2050c8" stroke-width="1.5"/>
<text x="528.3" y="750.7" font-size="8.2" text-anchor="start" font-family="Liberation Serif, serif" fill="#000" stroke="#000" stroke-width="0.2" >P2</text>
<line x1="473.5" y1="758.0" x2="493.2" y2="758.0" stroke="#c8e82a" stroke-width="1.5"/>
<text x="494.6" y="760.9" font-size="8.2" text-anchor="start" font-family="Liberation Serif, serif" fill="#000" stroke="#000" stroke-width="0.2" >P3</text>
<line x1="507.9" y1="758.0" x2="526.9" y2="758.0" stroke="#f27a2a" stroke-width="1.5"/>
<text x="528.3" y="760.9" font-size="8.2" text-anchor="start" font-family="Liberation Serif, serif" fill="#000" stroke="#000" stroke-width="0.2" >P4</text>
<text x="548.6" y="953.6" font-size="19" text-anchor="middle" font-family="Liberation Serif, serif" fill="#000" stroke="#000" stroke-width="0.2" >(g)</text>
</svg></body></html>
